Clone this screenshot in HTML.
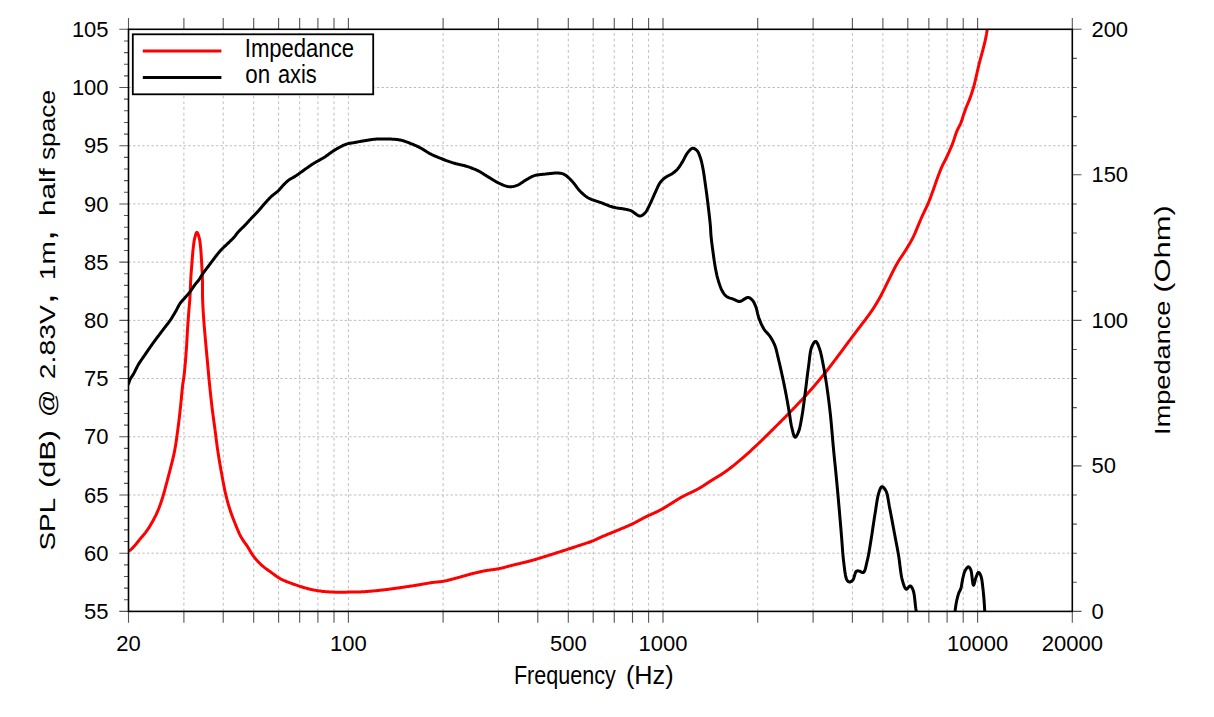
<!DOCTYPE html>
<html><head><meta charset="utf-8"><style>
html,body{margin:0;padding:0;background:#fff;}
svg{display:block;}
</style></head><body>
<svg width="1214" height="717" viewBox="0 0 1214 717" font-family='"Liberation Sans", sans-serif'><path d="M183.90,611.40V29.30M223.20,611.40V29.30M253.69,611.40V29.30M278.60,611.40V29.30M299.66,611.40V29.30M317.91,611.40V29.30M334.00,611.40V29.30M348.40,611.40V29.30M443.10,611.40V29.30M498.50,611.40V29.30M537.80,611.40V29.30M568.29,611.40V29.30M593.20,611.40V29.30M614.26,611.40V29.30M632.51,611.40V29.30M648.60,611.40V29.30M663.00,611.40V29.30M757.70,611.40V29.30M813.10,611.40V29.30M852.40,611.40V29.30M882.89,611.40V29.30M907.80,611.40V29.30M928.86,611.40V29.30M947.11,611.40V29.30M963.20,611.40V29.30M977.60,611.40V29.30" stroke="#bdbdbd" stroke-width="1" stroke-dasharray="2.8 2.9" fill="none"/>
<path d="M128.50,553.19H1072.30M128.50,494.98H1072.30M128.50,436.77H1072.30M128.50,378.56H1072.30M128.50,320.35H1072.30M128.50,262.14H1072.30M128.50,203.93H1072.30M128.50,145.72H1072.30M128.50,87.51H1072.30" stroke="#bdbdbd" stroke-width="1" stroke-dasharray="2.4 2.2" fill="none"/>
<path d="M128.50,611.40V622.70M128.50,29.30V18.00M183.90,611.40V622.70M183.90,29.30V18.00M223.20,611.40V622.70M223.20,29.30V18.00M253.69,611.40V622.70M253.69,29.30V18.00M278.60,611.40V622.70M278.60,29.30V18.00M299.66,611.40V622.70M299.66,29.30V18.00M317.91,611.40V622.70M317.91,29.30V18.00M334.00,611.40V622.70M334.00,29.30V18.00M348.40,611.40V622.70M348.40,29.30V18.00M443.10,611.40V622.70M443.10,29.30V18.00M498.50,611.40V622.70M498.50,29.30V18.00M537.80,611.40V622.70M537.80,29.30V18.00M568.29,611.40V622.70M568.29,29.30V18.00M593.20,611.40V622.70M593.20,29.30V18.00M614.26,611.40V622.70M614.26,29.30V18.00M632.51,611.40V622.70M632.51,29.30V18.00M648.60,611.40V622.70M648.60,29.30V18.00M663.00,611.40V622.70M663.00,29.30V18.00M757.70,611.40V622.70M757.70,29.30V18.00M813.10,611.40V622.70M813.10,29.30V18.00M852.40,611.40V622.70M852.40,29.30V18.00M882.89,611.40V622.70M882.89,29.30V18.00M907.80,611.40V622.70M907.80,29.30V18.00M928.86,611.40V622.70M928.86,29.30V18.00M947.11,611.40V622.70M947.11,29.30V18.00M963.20,611.40V622.70M963.20,29.30V18.00M977.60,611.40V622.70M977.60,29.30V18.00M1072.30,611.40V622.70M1072.30,29.30V18.00M128.50,611.40H119.30M128.50,599.76H124.00M128.50,588.12H124.00M128.50,576.47H124.00M128.50,564.83H124.00M128.50,553.19H119.30M128.50,541.55H124.00M128.50,529.91H124.00M128.50,518.26H124.00M128.50,506.62H124.00M128.50,494.98H119.30M128.50,483.34H124.00M128.50,471.70H124.00M128.50,460.05H124.00M128.50,448.41H124.00M128.50,436.77H119.30M128.50,425.13H124.00M128.50,413.49H124.00M128.50,401.84H124.00M128.50,390.20H124.00M128.50,378.56H119.30M128.50,366.92H124.00M128.50,355.28H124.00M128.50,343.63H124.00M128.50,331.99H124.00M128.50,320.35H119.30M128.50,308.71H124.00M128.50,297.07H124.00M128.50,285.42H124.00M128.50,273.78H124.00M128.50,262.14H119.30M128.50,250.50H124.00M128.50,238.86H124.00M128.50,227.21H124.00M128.50,215.57H124.00M128.50,203.93H119.30M128.50,192.29H124.00M128.50,180.65H124.00M128.50,169.00H124.00M128.50,157.36H124.00M128.50,145.72H119.30M128.50,134.08H124.00M128.50,122.44H124.00M128.50,110.79H124.00M128.50,99.15H124.00M128.50,87.51H119.30M128.50,75.87H124.00M128.50,64.23H124.00M128.50,52.58H124.00M128.50,40.94H124.00M128.50,29.30H119.30M1072.30,611.40H1081.50M1072.30,582.29H1076.80M1072.30,553.19H1076.80M1072.30,524.09H1076.80M1072.30,494.98H1076.80M1072.30,465.88H1081.50M1072.30,436.77H1076.80M1072.30,407.66H1076.80M1072.30,378.56H1076.80M1072.30,349.45H1076.80M1072.30,320.35H1081.50M1072.30,291.24H1076.80M1072.30,262.14H1076.80M1072.30,233.03H1076.80M1072.30,203.93H1076.80M1072.30,174.82H1081.50M1072.30,145.72H1076.80M1072.30,116.61H1076.80M1072.30,87.51H1076.80M1072.30,58.40H1076.80M1072.30,29.30H1081.50" stroke="#555" stroke-width="1.1" fill="none"/>
<defs><clipPath id="cp"><rect x="128.50" y="29.30" width="943.80" height="582.10"/></clipPath></defs>
<g clip-path="url(#cp)" fill="none" stroke-linejoin="round" stroke-linecap="round">
<path d="M126.50,552.50 L127.69,551.71 L128.80,551.00 L130.00,550.30 L130.42,549.96 L130.90,549.52 L131.44,549.02 L132.02,548.45 L132.62,547.84 L133.23,547.21 L133.84,546.56 L134.44,545.92 L135.00,545.30 L135.52,544.71 L136.03,544.11 L136.53,543.50 L137.03,542.88 L137.53,542.24 L138.03,541.60 L138.54,540.96 L139.05,540.31 L139.57,539.66 L140.10,539.00 L140.60,538.40 L141.10,537.80 L141.62,537.21 L142.14,536.60 L142.66,536.00 L143.19,535.39 L143.72,534.77 L144.25,534.14 L144.77,533.50 L145.29,532.85 L145.80,532.18 L146.30,531.50 L146.71,530.92 L147.12,530.33 L147.53,529.73 L147.94,529.11 L148.35,528.49 L148.76,527.86 L149.16,527.22 L149.56,526.58 L149.96,525.94 L150.35,525.29 L150.74,524.64 L151.12,523.99 L151.50,523.33 L151.87,522.69 L152.24,522.04 L152.60,521.40 L152.99,520.70 L153.38,520.00 L153.75,519.31 L154.13,518.61 L154.49,517.92 L154.85,517.23 L155.21,516.53 L155.56,515.83 L155.90,515.12 L156.25,514.40 L156.59,513.67 L156.93,512.93 L157.26,512.17 L157.60,511.40 L157.88,510.73 L158.16,510.05 L158.45,509.36 L158.72,508.66 L159.00,507.95 L159.28,507.23 L159.55,506.51 L159.82,505.77 L160.09,505.04 L160.35,504.30 L160.62,503.55 L160.88,502.80 L161.13,502.06 L161.39,501.31 L161.64,500.56 L161.88,499.82 L162.13,499.07 L162.37,498.33 L162.60,497.60 L162.83,496.88 L163.05,496.15 L163.27,495.43 L163.48,494.70 L163.69,493.97 L163.89,493.24 L164.09,492.51 L164.29,491.78 L164.49,491.04 L164.68,490.31 L164.88,489.58 L165.07,488.85 L165.26,488.13 L165.45,487.40 L165.64,486.68 L165.83,485.95 L166.02,485.23 L166.21,484.51 L166.40,483.80 L166.61,483.04 L166.81,482.29 L167.01,481.55 L167.21,480.82 L167.41,480.09 L167.60,479.37 L167.80,478.64 L167.99,477.92 L168.19,477.19 L168.38,476.46 L168.58,475.72 L168.78,474.96 L168.98,474.20 L169.18,473.43 L169.38,472.64 L169.59,471.83 L169.80,471.00 L169.96,470.36 L170.13,469.71 L170.30,469.05 L170.47,468.38 L170.64,467.70 L170.82,467.01 L170.99,466.32 L171.17,465.62 L171.35,464.92 L171.53,464.20 L171.72,463.48 L171.90,462.76 L172.08,462.03 L172.26,461.30 L172.44,460.57 L172.62,459.83 L172.80,459.09 L172.98,458.35 L173.15,457.60 L173.33,456.85 L173.50,456.11 L173.67,455.36 L173.83,454.61 L173.99,453.87 L174.15,453.12 L174.30,452.38 L174.45,451.64 L174.60,450.90 L174.74,450.18 L174.87,449.47 L175.00,448.75 L175.13,448.03 L175.26,447.30 L175.38,446.57 L175.50,445.85 L175.62,445.12 L175.74,444.39 L175.85,443.65 L175.97,442.92 L176.08,442.18 L176.19,441.45 L176.29,440.71 L176.40,439.97 L176.51,439.23 L176.61,438.50 L176.71,437.76 L176.81,437.02 L176.91,436.28 L177.01,435.54 L177.11,434.80 L177.21,434.06 L177.31,433.32 L177.41,432.58 L177.51,431.84 L177.61,431.11 L177.70,430.37 L177.80,429.63 L177.90,428.90 L178.00,428.17 L178.09,427.44 L178.19,426.71 L178.28,425.98 L178.38,425.25 L178.47,424.52 L178.56,423.79 L178.65,423.06 L178.74,422.33 L178.83,421.60 L178.92,420.87 L179.01,420.14 L179.10,419.41 L179.18,418.68 L179.27,417.95 L179.35,417.22 L179.44,416.49 L179.52,415.76 L179.61,415.04 L179.69,414.31 L179.77,413.58 L179.85,412.85 L179.94,412.11 L180.02,411.38 L180.10,410.65 L180.18,409.92 L180.26,409.19 L180.34,408.46 L180.42,407.73 L180.50,407.00 L180.58,406.26 L180.66,405.52 L180.74,404.76 L180.81,404.00 L180.89,403.23 L180.97,402.46 L181.04,401.69 L181.12,400.91 L181.19,400.12 L181.27,399.34 L181.34,398.56 L181.41,397.78 L181.49,397.00 L181.56,396.22 L181.63,395.45 L181.70,394.68 L181.78,393.92 L181.85,393.16 L181.92,392.41 L181.99,391.68 L182.06,390.95 L182.13,390.23 L182.20,389.52 L182.27,388.83 L182.34,388.15 L182.42,387.49 L182.49,386.84 L182.56,386.21 L182.63,385.59 L182.70,385.00 L182.81,384.14 L182.92,383.34 L183.03,382.59 L183.14,381.87 L183.24,381.19 L183.35,380.52 L183.46,379.86 L183.57,379.18 L183.67,378.49 L183.78,377.77 L183.89,377.00 L183.99,376.19 L184.10,375.30 L184.17,374.72 L184.23,374.13 L184.30,373.51 L184.37,372.87 L184.43,372.21 L184.50,371.54 L184.57,370.85 L184.64,370.15 L184.71,369.43 L184.78,368.70 L184.85,367.95 L184.92,367.20 L184.99,366.44 L185.06,365.67 L185.12,364.89 L185.19,364.11 L185.26,363.32 L185.33,362.52 L185.39,361.73 L185.46,360.93 L185.53,360.13 L185.59,359.33 L185.66,358.54 L185.72,357.74 L185.78,356.95 L185.85,356.17 L185.91,355.39 L185.97,354.62 L186.03,353.86 L186.08,353.10 L186.14,352.36 L186.19,351.63 L186.25,350.91 L186.30,350.20 L186.36,349.41 L186.41,348.63 L186.46,347.85 L186.52,347.07 L186.57,346.30 L186.61,345.53 L186.66,344.77 L186.71,344.00 L186.75,343.24 L186.79,342.48 L186.84,341.73 L186.88,340.98 L186.92,340.23 L186.96,339.48 L187.00,338.74 L187.04,338.00 L187.08,337.26 L187.12,336.52 L187.16,335.79 L187.20,335.06 L187.24,334.33 L187.28,333.60 L187.32,332.88 L187.37,332.16 L187.41,331.44 L187.45,330.72 L187.50,330.00 L187.55,329.23 L187.60,328.46 L187.65,327.70 L187.70,326.94 L187.75,326.19 L187.80,325.43 L187.86,324.68 L187.91,323.94 L187.96,323.19 L188.01,322.45 L188.06,321.71 L188.12,320.97 L188.17,320.24 L188.22,319.51 L188.27,318.78 L188.33,318.05 L188.38,317.32 L188.43,316.60 L188.49,315.87 L188.54,315.15 L188.59,314.43 L188.65,313.72 L188.70,313.00 L188.76,312.23 L188.82,311.47 L188.88,310.72 L188.94,309.98 L189.00,309.24 L189.07,308.51 L189.13,307.78 L189.19,307.06 L189.25,306.33 L189.32,305.60 L189.38,304.87 L189.44,304.14 L189.50,303.40 L189.56,302.66 L189.62,301.91 L189.68,301.15 L189.74,300.38 L189.79,299.60 L189.85,298.81 L189.90,298.00 L189.94,297.33 L189.98,296.64 L190.02,295.95 L190.06,295.24 L190.10,294.53 L190.13,293.80 L190.17,293.07 L190.20,292.34 L190.23,291.59 L190.27,290.84 L190.30,290.09 L190.33,289.33 L190.36,288.58 L190.39,287.82 L190.42,287.06 L190.45,286.30 L190.48,285.54 L190.52,284.79 L190.55,284.03 L190.58,283.29 L190.61,282.54 L190.64,281.81 L190.68,281.08 L190.71,280.36 L190.75,279.64 L190.78,278.94 L190.82,278.25 L190.86,277.57 L190.90,276.90 L190.95,276.10 L191.00,275.32 L191.05,274.55 L191.10,273.79 L191.15,273.04 L191.21,272.29 L191.26,271.56 L191.31,270.83 L191.37,270.10 L191.42,269.38 L191.48,268.67 L191.53,267.95 L191.59,267.24 L191.65,266.53 L191.71,265.81 L191.76,265.10 L191.82,264.38 L191.88,263.66 L191.94,262.93 L192.00,262.20 L192.06,261.46 L192.12,260.72 L192.18,259.97 L192.24,259.21 L192.30,258.45 L192.36,257.69 L192.42,256.93 L192.48,256.17 L192.54,255.41 L192.60,254.66 L192.66,253.90 L192.73,253.16 L192.79,252.42 L192.86,251.68 L192.93,250.96 L193.00,250.24 L193.07,249.54 L193.15,248.84 L193.22,248.17 L193.30,247.50 L193.40,246.68 L193.50,245.86 L193.59,245.06 L193.69,244.26 L193.78,243.48 L193.89,242.71 L193.99,241.96 L194.10,241.22 L194.22,240.49 L194.35,239.79 L194.49,239.11 L194.64,238.44 L194.80,237.80 L195.06,236.84 L195.33,235.81 L195.63,234.80 L195.94,233.87 L196.26,233.11 L196.58,232.59 L196.90,232.40 L197.23,232.58 L197.57,233.10 L197.93,233.86 L198.28,234.79 L198.61,235.81 L198.93,236.84 L199.20,237.80 L199.37,238.44 L199.52,239.10 L199.65,239.79 L199.78,240.49 L199.89,241.21 L199.99,241.95 L200.09,242.71 L200.18,243.48 L200.27,244.26 L200.35,245.06 L200.43,245.86 L200.51,246.68 L200.60,247.50 L200.67,248.16 L200.73,248.84 L200.79,249.53 L200.85,250.23 L200.91,250.95 L200.97,251.67 L201.02,252.39 L201.07,253.13 L201.12,253.87 L201.16,254.62 L201.21,255.38 L201.25,256.13 L201.30,256.89 L201.34,257.65 L201.38,258.41 L201.43,259.18 L201.47,259.94 L201.51,260.69 L201.56,261.45 L201.60,262.20 L201.64,262.94 L201.69,263.67 L201.73,264.41 L201.78,265.14 L201.82,265.87 L201.86,266.61 L201.91,267.34 L201.95,268.08 L201.99,268.82 L202.03,269.56 L202.07,270.30 L202.11,271.05 L202.15,271.80 L202.19,272.55 L202.22,273.31 L202.25,274.07 L202.29,274.85 L202.32,275.62 L202.35,276.41 L202.37,277.20 L202.40,278.00 L202.42,278.70 L202.44,279.40 L202.45,280.10 L202.46,280.82 L202.47,281.54 L202.48,282.26 L202.48,282.99 L202.48,283.73 L202.49,284.46 L202.49,285.21 L202.49,285.95 L202.49,286.70 L202.49,287.45 L202.49,288.20 L202.49,288.96 L202.49,289.72 L202.49,290.47 L202.49,291.23 L202.49,291.99 L202.49,292.75 L202.50,293.51 L202.51,294.27 L202.52,295.03 L202.53,295.79 L202.54,296.54 L202.56,297.30 L202.58,298.05 L202.60,298.80 L202.62,299.53 L202.65,300.27 L202.68,301.00 L202.71,301.73 L202.74,302.47 L202.77,303.20 L202.81,303.93 L202.84,304.67 L202.88,305.40 L202.91,306.14 L202.95,306.87 L202.99,307.61 L203.03,308.34 L203.08,309.08 L203.12,309.82 L203.16,310.55 L203.21,311.29 L203.25,312.03 L203.30,312.77 L203.35,313.51 L203.40,314.25 L203.44,314.99 L203.49,315.73 L203.54,316.47 L203.59,317.22 L203.64,317.96 L203.70,318.71 L203.75,319.45 L203.80,320.20 L203.85,320.92 L203.90,321.64 L203.96,322.35 L204.01,323.07 L204.06,323.79 L204.12,324.51 L204.18,325.22 L204.23,325.94 L204.29,326.66 L204.35,327.37 L204.41,328.09 L204.47,328.81 L204.53,329.53 L204.59,330.25 L204.65,330.97 L204.72,331.69 L204.78,332.42 L204.84,333.14 L204.91,333.87 L204.97,334.60 L205.04,335.33 L205.10,336.07 L205.17,336.81 L205.23,337.54 L205.30,338.29 L205.37,339.03 L205.43,339.78 L205.50,340.53 L205.57,341.28 L205.63,342.04 L205.70,342.80 L205.76,343.49 L205.82,344.18 L205.88,344.89 L205.95,345.60 L206.01,346.31 L206.08,347.04 L206.14,347.77 L206.21,348.50 L206.28,349.24 L206.34,349.98 L206.41,350.73 L206.48,351.48 L206.55,352.23 L206.62,352.98 L206.69,353.73 L206.76,354.49 L206.83,355.24 L206.90,355.99 L206.97,356.75 L207.04,357.49 L207.11,358.24 L207.17,358.99 L207.24,359.73 L207.31,360.46 L207.38,361.19 L207.45,361.92 L207.51,362.64 L207.58,363.35 L207.65,364.06 L207.71,364.76 L207.78,365.45 L207.84,366.13 L207.90,366.80 L207.96,367.46 L208.03,368.11 L208.08,368.75 L208.14,369.38 L208.20,370.00 L208.28,370.85 L208.35,371.67 L208.43,372.46 L208.50,373.24 L208.57,373.99 L208.63,374.74 L208.70,375.46 L208.76,376.18 L208.83,376.89 L208.89,377.60 L208.96,378.30 L209.02,379.01 L209.09,379.72 L209.15,380.43 L209.22,381.15 L209.29,381.89 L209.37,382.64 L209.44,383.40 L209.52,384.19 L209.60,385.00 L209.67,385.67 L209.74,386.35 L209.81,387.03 L209.88,387.72 L209.95,388.43 L210.02,389.13 L210.10,389.85 L210.17,390.57 L210.25,391.29 L210.32,392.03 L210.40,392.76 L210.48,393.50 L210.56,394.25 L210.64,394.99 L210.72,395.74 L210.80,396.50 L210.88,397.25 L210.97,398.00 L211.05,398.76 L211.13,399.52 L211.22,400.27 L211.30,401.03 L211.39,401.78 L211.48,402.54 L211.56,403.29 L211.65,404.04 L211.74,404.78 L211.82,405.53 L211.91,406.27 L212.00,407.00 L212.09,407.73 L212.18,408.46 L212.27,409.19 L212.36,409.92 L212.45,410.65 L212.55,411.38 L212.64,412.11 L212.74,412.84 L212.83,413.57 L212.93,414.30 L213.03,415.03 L213.12,415.76 L213.22,416.49 L213.32,417.22 L213.42,417.95 L213.52,418.68 L213.62,419.41 L213.72,420.14 L213.82,420.87 L213.92,421.60 L214.01,422.33 L214.11,423.06 L214.21,423.79 L214.31,424.52 L214.41,425.25 L214.51,425.98 L214.61,426.71 L214.71,427.44 L214.80,428.17 L214.90,428.90 L215.00,429.63 L215.09,430.37 L215.19,431.10 L215.28,431.83 L215.37,432.56 L215.47,433.30 L215.56,434.03 L215.65,434.76 L215.75,435.50 L215.84,436.23 L215.93,436.97 L216.02,437.70 L216.12,438.43 L216.21,439.17 L216.30,439.90 L216.39,440.63 L216.49,441.37 L216.58,442.10 L216.68,442.84 L216.78,443.57 L216.87,444.30 L216.97,445.04 L217.07,445.77 L217.17,446.50 L217.27,447.24 L217.37,447.97 L217.48,448.70 L217.58,449.43 L217.69,450.17 L217.80,450.90 L217.91,451.63 L218.02,452.37 L218.13,453.10 L218.25,453.84 L218.36,454.57 L218.48,455.30 L218.60,456.04 L218.71,456.77 L218.83,457.50 L218.95,458.24 L219.07,458.97 L219.19,459.70 L219.31,460.44 L219.44,461.17 L219.56,461.90 L219.68,462.63 L219.81,463.37 L219.93,464.10 L220.06,464.83 L220.19,465.57 L220.32,466.30 L220.44,467.03 L220.57,467.77 L220.70,468.50 L220.84,469.23 L220.97,469.97 L221.10,470.70 L221.23,471.43 L221.37,472.17 L221.50,472.90 L221.63,473.62 L221.76,474.34 L221.90,475.07 L222.03,475.80 L222.16,476.53 L222.30,477.26 L222.43,478.00 L222.57,478.74 L222.71,479.48 L222.84,480.22 L222.98,480.96 L223.12,481.70 L223.26,482.44 L223.40,483.17 L223.54,483.91 L223.68,484.65 L223.83,485.38 L223.97,486.11 L224.11,486.83 L224.26,487.55 L224.40,488.27 L224.55,488.98 L224.70,489.69 L224.84,490.39 L224.99,491.09 L225.14,491.77 L225.29,492.46 L225.44,493.13 L225.59,493.79 L225.75,494.45 L225.90,495.10 L226.09,495.88 L226.28,496.65 L226.46,497.41 L226.65,498.17 L226.84,498.91 L227.03,499.64 L227.22,500.37 L227.42,501.09 L227.61,501.80 L227.81,502.51 L228.00,503.21 L228.20,503.91 L228.40,504.60 L228.60,505.29 L228.81,505.98 L229.02,506.67 L229.23,507.35 L229.44,508.04 L229.66,508.72 L229.88,509.41 L230.10,510.10 L230.34,510.83 L230.58,511.55 L230.83,512.27 L231.08,512.99 L231.33,513.70 L231.58,514.41 L231.84,515.11 L232.10,515.82 L232.36,516.52 L232.62,517.22 L232.89,517.92 L233.16,518.62 L233.43,519.31 L233.70,520.01 L233.98,520.71 L234.25,521.40 L234.53,522.10 L234.82,522.80 L235.10,523.50 L235.39,524.21 L235.68,524.93 L235.97,525.65 L236.26,526.37 L236.55,527.10 L236.85,527.83 L237.14,528.56 L237.44,529.28 L237.75,530.00 L238.05,530.73 L238.36,531.44 L238.68,532.15 L238.99,532.86 L239.31,533.56 L239.64,534.24 L239.97,534.93 L240.31,535.60 L240.65,536.25 L241.00,536.90 L241.38,537.58 L241.78,538.25 L242.19,538.91 L242.60,539.55 L243.02,540.18 L243.45,540.81 L243.88,541.43 L244.31,542.04 L244.74,542.65 L245.18,543.26 L245.61,543.86 L246.04,544.47 L246.46,545.07 L246.88,545.68 L247.30,546.29 L247.70,546.90 L248.13,547.57 L248.54,548.25 L248.94,548.92 L249.34,549.59 L249.73,550.27 L250.12,550.94 L250.51,551.61 L250.90,552.27 L251.30,552.94 L251.71,553.60 L252.13,554.25 L252.57,554.91 L253.03,555.56 L253.50,556.20 L253.96,556.80 L254.43,557.40 L254.91,558.00 L255.40,558.59 L255.90,559.19 L256.41,559.78 L256.93,560.37 L257.46,560.95 L257.99,561.53 L258.53,562.11 L259.08,562.68 L259.64,563.24 L260.19,563.79 L260.76,564.34 L261.33,564.87 L261.90,565.40 L262.48,565.92 L263.08,566.43 L263.69,566.93 L264.31,567.42 L264.93,567.91 L265.57,568.39 L266.20,568.86 L266.85,569.33 L267.49,569.79 L268.13,570.25 L268.78,570.70 L269.41,571.15 L270.05,571.59 L270.67,572.03 L271.29,572.47 L271.90,572.90 L272.56,573.38 L273.21,573.86 L273.86,574.34 L274.49,574.81 L275.12,575.27 L275.75,575.73 L276.38,576.19 L277.02,576.63 L277.65,577.07 L278.30,577.49 L278.95,577.91 L279.62,578.31 L280.30,578.70 L280.96,579.06 L281.63,579.40 L282.31,579.73 L283.00,580.05 L283.70,580.37 L284.40,580.67 L285.11,580.97 L285.81,581.26 L286.52,581.54 L287.23,581.82 L287.93,582.10 L288.63,582.37 L289.32,582.63 L290.00,582.90 L290.73,583.18 L291.44,583.45 L292.14,583.71 L292.84,583.97 L293.54,584.21 L294.23,584.46 L294.93,584.70 L295.64,584.94 L296.36,585.17 L297.09,585.41 L297.83,585.66 L298.60,585.90 L299.28,586.12 L299.98,586.34 L300.69,586.56 L301.41,586.79 L302.14,587.02 L302.88,587.24 L303.62,587.47 L304.37,587.69 L305.13,587.91 L305.88,588.13 L306.64,588.34 L307.40,588.55 L308.15,588.75 L308.91,588.94 L309.66,589.13 L310.40,589.30 L311.18,589.47 L311.95,589.64 L312.73,589.80 L313.51,589.96 L314.29,590.11 L315.07,590.25 L315.85,590.39 L316.63,590.52 L317.41,590.65 L318.19,590.77 L318.97,590.89 L319.75,591.00 L320.54,591.10 L321.32,591.20 L322.10,591.30 L322.87,591.39 L323.64,591.47 L324.41,591.55 L325.18,591.62 L325.94,591.68 L326.70,591.74 L327.47,591.80 L328.24,591.85 L329.01,591.89 L329.79,591.93 L330.57,591.97 L331.36,592.01 L332.16,592.04 L332.98,592.07 L333.80,592.10 L334.51,592.12 L335.24,592.14 L335.97,592.16 L336.71,592.17 L337.46,592.18 L338.22,592.18 L338.98,592.18 L339.74,592.19 L340.51,592.18 L341.29,592.18 L342.06,592.18 L342.83,592.17 L343.60,592.16 L344.38,592.15 L345.14,592.15 L345.91,592.14 L346.67,592.13 L347.42,592.12 L348.16,592.11 L348.90,592.10 L349.66,592.09 L350.41,592.08 L351.15,592.08 L351.88,592.07 L352.61,592.07 L353.34,592.06 L354.06,592.05 L354.78,592.04 L355.50,592.03 L356.22,592.02 L356.95,592.00 L357.68,591.99 L358.42,591.96 L359.17,591.94 L359.93,591.91 L360.71,591.88 L361.50,591.84 L362.30,591.80 L362.98,591.76 L363.68,591.72 L364.39,591.67 L365.10,591.63 L365.83,591.58 L366.56,591.52 L367.31,591.47 L368.05,591.41 L368.81,591.35 L369.57,591.28 L370.33,591.22 L371.10,591.15 L371.87,591.08 L372.64,591.01 L373.41,590.94 L374.18,590.87 L374.95,590.80 L375.72,590.72 L376.49,590.65 L377.25,590.57 L378.01,590.49 L378.76,590.41 L379.51,590.34 L380.25,590.26 L380.98,590.18 L381.70,590.10 L382.46,590.02 L383.21,589.93 L383.95,589.84 L384.70,589.76 L385.44,589.67 L386.17,589.58 L386.91,589.48 L387.64,589.39 L388.37,589.30 L389.10,589.20 L389.82,589.10 L390.54,589.01 L391.27,588.91 L391.99,588.81 L392.71,588.71 L393.43,588.61 L394.15,588.51 L394.88,588.41 L395.60,588.31 L396.32,588.21 L397.05,588.10 L397.77,588.00 L398.50,587.90 L399.23,587.80 L399.95,587.69 L400.68,587.59 L401.41,587.49 L402.14,587.38 L402.86,587.28 L403.59,587.17 L404.31,587.06 L405.04,586.96 L405.77,586.85 L406.49,586.74 L407.22,586.63 L407.94,586.52 L408.67,586.41 L409.40,586.30 L410.12,586.19 L410.85,586.08 L411.57,585.97 L412.30,585.86 L413.02,585.74 L413.75,585.63 L414.47,585.51 L415.20,585.40 L415.93,585.28 L416.66,585.16 L417.40,585.04 L418.14,584.92 L418.88,584.79 L419.63,584.66 L420.38,584.53 L421.12,584.40 L421.87,584.27 L422.61,584.14 L423.36,584.01 L424.10,583.88 L424.84,583.75 L425.57,583.62 L426.30,583.49 L427.03,583.37 L427.75,583.25 L428.46,583.13 L429.16,583.02 L429.86,582.91 L430.55,582.80 L431.23,582.70 L431.90,582.60 L432.74,582.48 L433.57,582.38 L434.38,582.29 L435.18,582.21 L435.96,582.13 L436.74,582.06 L437.51,581.98 L438.27,581.91 L439.04,581.83 L439.80,581.75 L440.56,581.67 L441.34,581.57 L442.11,581.46 L442.90,581.34 L443.70,581.20 L444.42,581.06 L445.14,580.92 L445.87,580.76 L446.60,580.60 L447.33,580.44 L448.06,580.26 L448.79,580.08 L449.52,579.89 L450.26,579.70 L451.00,579.51 L451.74,579.31 L452.48,579.11 L453.23,578.91 L453.98,578.71 L454.73,578.51 L455.48,578.30 L456.24,578.10 L457.00,577.90 L457.70,577.71 L458.41,577.52 L459.12,577.33 L459.83,577.13 L460.55,576.93 L461.27,576.72 L462.00,576.51 L462.72,576.30 L463.45,576.09 L464.18,575.88 L464.91,575.67 L465.64,575.46 L466.37,575.26 L467.09,575.05 L467.82,574.85 L468.54,574.64 L469.26,574.45 L469.98,574.25 L470.69,574.06 L471.40,573.88 L472.10,573.70 L472.86,573.51 L473.62,573.32 L474.37,573.14 L475.12,572.95 L475.87,572.77 L476.62,572.60 L477.36,572.42 L478.10,572.25 L478.84,572.08 L479.58,571.92 L480.32,571.75 L481.05,571.59 L481.79,571.44 L482.53,571.28 L483.27,571.13 L484.01,570.98 L484.75,570.84 L485.50,570.70 L486.24,570.57 L486.99,570.44 L487.73,570.33 L488.47,570.22 L489.22,570.11 L489.96,570.01 L490.71,569.91 L491.46,569.82 L492.20,569.72 L492.95,569.63 L493.69,569.53 L494.44,569.43 L495.18,569.33 L495.93,569.22 L496.67,569.10 L497.42,568.98 L498.16,568.84 L498.90,568.70 L499.64,568.55 L500.38,568.39 L501.11,568.22 L501.84,568.05 L502.56,567.87 L503.28,567.69 L504.01,567.50 L504.73,567.31 L505.45,567.12 L506.18,566.92 L506.91,566.73 L507.65,566.52 L508.40,566.32 L509.16,566.12 L509.92,565.91 L510.70,565.71 L511.49,565.50 L512.30,565.30 L512.96,565.14 L513.63,564.97 L514.31,564.80 L515.00,564.64 L515.69,564.47 L516.40,564.30 L517.11,564.13 L517.83,563.96 L518.56,563.78 L519.29,563.61 L520.02,563.43 L520.76,563.26 L521.50,563.08 L522.24,562.90 L522.99,562.72 L523.73,562.54 L524.47,562.36 L525.21,562.18 L525.95,561.99 L526.69,561.81 L527.42,561.63 L528.15,561.44 L528.87,561.25 L529.59,561.07 L530.30,560.88 L531.01,560.69 L531.70,560.50 L532.43,560.30 L533.15,560.10 L533.86,559.89 L534.58,559.69 L535.29,559.48 L536.00,559.27 L536.70,559.06 L537.40,558.85 L538.10,558.64 L538.80,558.43 L539.49,558.21 L540.19,558.00 L540.88,557.78 L541.57,557.57 L542.26,557.35 L542.96,557.14 L543.65,556.92 L544.34,556.70 L545.03,556.49 L545.72,556.27 L546.41,556.05 L547.11,555.83 L547.80,555.62 L548.50,555.40 L549.20,555.18 L549.89,554.97 L550.59,554.75 L551.29,554.53 L551.99,554.31 L552.68,554.09 L553.38,553.87 L554.07,553.66 L554.77,553.44 L555.47,553.22 L556.16,553.00 L556.86,552.77 L557.55,552.55 L558.25,552.33 L558.94,552.11 L559.64,551.89 L560.33,551.67 L561.03,551.44 L561.72,551.22 L562.42,551.00 L563.11,550.77 L563.81,550.55 L564.50,550.32 L565.20,550.10 L565.90,549.87 L566.61,549.64 L567.32,549.41 L568.03,549.18 L568.75,548.94 L569.48,548.71 L570.20,548.47 L570.92,548.23 L571.65,548.00 L572.37,547.76 L573.09,547.52 L573.81,547.28 L574.53,547.05 L575.24,546.81 L575.95,546.58 L576.64,546.35 L577.34,546.12 L578.02,545.89 L578.69,545.67 L579.36,545.45 L580.01,545.23 L580.66,545.01 L581.28,544.80 L581.90,544.60 L582.70,544.34 L583.48,544.08 L584.24,543.84 L584.98,543.60 L585.70,543.37 L586.42,543.14 L587.12,542.92 L587.82,542.69 L588.51,542.46 L589.21,542.22 L589.90,541.98 L590.59,541.73 L591.29,541.47 L592.00,541.20 L592.72,540.91 L593.43,540.62 L594.13,540.31 L594.83,540.00 L595.53,539.68 L596.22,539.36 L596.92,539.03 L597.62,538.70 L598.32,538.37 L599.04,538.04 L599.76,537.70 L600.49,537.37 L601.24,537.03 L602.00,536.70 L602.66,536.42 L603.32,536.14 L603.99,535.86 L604.66,535.58 L605.34,535.30 L606.03,535.02 L606.72,534.74 L607.42,534.45 L608.13,534.17 L608.84,533.88 L609.55,533.59 L610.27,533.30 L610.99,533.01 L611.72,532.72 L612.45,532.42 L613.18,532.12 L613.92,531.82 L614.66,531.51 L615.40,531.20 L616.04,530.93 L616.69,530.66 L617.34,530.39 L618.01,530.11 L618.68,529.84 L619.35,529.56 L620.03,529.28 L620.72,528.99 L621.40,528.71 L622.09,528.42 L622.79,528.14 L623.48,527.85 L624.17,527.56 L624.86,527.26 L625.55,526.97 L626.24,526.68 L626.93,526.38 L627.61,526.09 L628.28,525.79 L628.95,525.49 L629.62,525.19 L630.28,524.90 L630.93,524.60 L631.57,524.30 L632.20,524.00 L632.91,523.66 L633.60,523.32 L634.29,522.97 L634.96,522.62 L635.63,522.28 L636.29,521.92 L636.95,521.57 L637.60,521.22 L638.25,520.87 L638.90,520.51 L639.55,520.16 L640.20,519.80 L640.84,519.45 L641.49,519.10 L642.15,518.74 L642.81,518.39 L643.47,518.04 L644.14,517.69 L644.81,517.34 L645.50,517.00 L646.16,516.67 L646.82,516.36 L647.49,516.04 L648.15,515.73 L648.82,515.43 L649.48,515.13 L650.15,514.83 L650.82,514.53 L651.50,514.23 L652.17,513.93 L652.85,513.63 L653.54,513.32 L654.22,513.01 L654.91,512.70 L655.61,512.38 L656.31,512.05 L657.01,511.72 L657.72,511.38 L658.43,511.02 L659.15,510.66 L659.87,510.29 L660.60,509.90 L661.18,509.59 L661.77,509.26 L662.36,508.93 L662.96,508.58 L663.56,508.23 L664.17,507.87 L664.78,507.50 L665.40,507.13 L666.02,506.75 L666.65,506.37 L667.27,505.98 L667.90,505.58 L668.54,505.19 L669.17,504.79 L669.81,504.38 L670.45,503.98 L671.09,503.57 L671.72,503.17 L672.36,502.76 L673.00,502.36 L673.64,501.95 L674.28,501.55 L674.91,501.15 L675.55,500.76 L676.18,500.36 L676.81,499.98 L677.43,499.59 L678.06,499.21 L678.67,498.84 L679.29,498.48 L679.90,498.12 L680.51,497.77 L681.11,497.43 L681.70,497.10 L682.40,496.72 L683.10,496.34 L683.80,495.98 L684.50,495.62 L685.19,495.27 L685.89,494.92 L686.58,494.59 L687.27,494.25 L687.95,493.92 L688.64,493.60 L689.32,493.27 L690.00,492.95 L690.68,492.64 L691.35,492.32 L692.02,492.00 L692.68,491.68 L693.35,491.36 L694.01,491.04 L694.66,490.72 L695.31,490.40 L695.96,490.07 L696.60,489.73 L697.24,489.39 L697.87,489.05 L698.50,488.70 L699.18,488.31 L699.86,487.92 L700.52,487.52 L701.19,487.12 L701.84,486.71 L702.50,486.30 L703.14,485.89 L703.79,485.48 L704.43,485.07 L705.06,484.65 L705.69,484.24 L706.32,483.83 L706.95,483.41 L707.57,483.00 L708.19,482.59 L708.81,482.18 L709.43,481.78 L710.05,481.38 L710.67,480.98 L711.28,480.58 L711.90,480.19 L712.57,479.77 L713.24,479.36 L713.90,478.96 L714.56,478.56 L715.21,478.16 L715.87,477.77 L716.52,477.37 L717.17,476.98 L717.82,476.59 L718.47,476.20 L719.11,475.81 L719.75,475.41 L720.40,475.01 L721.04,474.61 L721.68,474.20 L722.32,473.78 L722.96,473.35 L723.60,472.92 L724.22,472.49 L724.85,472.05 L725.47,471.61 L726.09,471.17 L726.71,470.72 L727.33,470.27 L727.95,469.81 L728.57,469.36 L729.18,468.89 L729.80,468.43 L730.41,467.96 L731.03,467.49 L731.64,467.01 L732.25,466.54 L732.86,466.06 L733.47,465.58 L734.08,465.09 L734.69,464.61 L735.30,464.12 L735.89,463.64 L736.49,463.16 L737.08,462.67 L737.68,462.18 L738.27,461.69 L738.86,461.19 L739.46,460.69 L740.05,460.19 L740.64,459.68 L741.23,459.18 L741.82,458.67 L742.41,458.16 L742.99,457.66 L743.58,457.15 L744.16,456.64 L744.73,456.13 L745.30,455.63 L745.87,455.13 L746.44,454.63 L747.00,454.13 L747.58,453.61 L748.16,453.09 L748.74,452.57 L749.31,452.05 L749.88,451.53 L750.44,451.02 L751.00,450.50 L751.56,449.98 L752.12,449.47 L752.67,448.95 L753.23,448.43 L753.78,447.92 L754.33,447.40 L754.88,446.88 L755.44,446.36 L755.99,445.84 L756.54,445.31 L757.10,444.79 L757.66,444.26 L758.22,443.72 L758.79,443.18 L759.36,442.64 L759.92,442.09 L760.49,441.55 L761.06,441.00 L761.62,440.45 L762.19,439.90 L762.75,439.36 L763.31,438.81 L763.86,438.27 L764.42,437.73 L764.96,437.20 L765.51,436.67 L766.04,436.14 L766.58,435.62 L767.10,435.11 L767.69,434.53 L768.27,433.96 L768.84,433.40 L769.40,432.85 L769.96,432.30 L770.51,431.75 L771.05,431.21 L771.60,430.67 L772.15,430.12 L772.71,429.57 L773.26,429.02 L773.83,428.45 L774.41,427.88 L775.00,427.29 L775.50,426.79 L776.00,426.29 L776.51,425.78 L777.03,425.27 L777.55,424.75 L778.07,424.23 L778.60,423.71 L779.13,423.18 L779.66,422.65 L780.20,422.11 L780.73,421.58 L781.27,421.04 L781.80,420.50 L782.34,419.97 L782.88,419.43 L783.41,418.89 L783.94,418.35 L784.47,417.82 L785.00,417.28 L785.53,416.74 L786.06,416.21 L786.60,415.66 L787.13,415.12 L787.66,414.58 L788.20,414.04 L788.73,413.50 L789.26,412.95 L789.79,412.41 L790.33,411.86 L790.86,411.32 L791.39,410.77 L791.92,410.23 L792.45,409.68 L792.98,409.13 L793.51,408.58 L794.04,408.03 L794.57,407.48 L795.10,406.93 L795.63,406.37 L796.16,405.82 L796.69,405.26 L797.22,404.70 L797.75,404.15 L798.27,403.59 L798.80,403.03 L799.33,402.47 L799.85,401.91 L800.38,401.35 L800.90,400.79 L801.43,400.23 L801.96,399.66 L802.48,399.10 L803.00,398.53 L803.53,397.96 L804.05,397.39 L804.58,396.82 L805.10,396.24 L805.61,395.68 L806.12,395.12 L806.62,394.56 L807.13,394.00 L807.64,393.44 L808.15,392.87 L808.65,392.31 L809.16,391.74 L809.67,391.17 L810.17,390.60 L810.68,390.03 L811.18,389.45 L811.69,388.88 L812.19,388.31 L812.69,387.73 L813.20,387.15 L813.70,386.57 L814.20,385.99 L814.70,385.41 L815.20,384.83 L815.68,384.26 L816.16,383.70 L816.64,383.13 L817.12,382.57 L817.60,382.00 L818.08,381.43 L818.56,380.86 L819.03,380.29 L819.51,379.71 L819.99,379.14 L820.46,378.57 L820.94,377.99 L821.41,377.41 L821.89,376.83 L822.36,376.25 L822.84,375.67 L823.31,375.08 L823.78,374.50 L824.25,373.91 L824.73,373.32 L825.20,372.73 L825.66,372.15 L826.12,371.58 L826.57,371.01 L827.02,370.44 L827.47,369.87 L827.91,369.30 L828.36,368.73 L828.80,368.15 L829.24,367.58 L829.69,367.00 L830.13,366.43 L830.58,365.84 L831.03,365.25 L831.49,364.66 L831.94,364.06 L832.40,363.46 L832.87,362.84 L833.34,362.22 L833.82,361.59 L834.31,360.95 L834.80,360.30 L835.30,359.64 L835.69,359.12 L836.09,358.59 L836.50,358.05 L836.91,357.50 L837.34,356.94 L837.76,356.37 L838.20,355.78 L838.64,355.20 L839.08,354.60 L839.53,354.00 L839.98,353.39 L840.43,352.78 L840.89,352.16 L841.35,351.55 L841.81,350.92 L842.27,350.30 L842.73,349.68 L843.19,349.06 L843.65,348.44 L844.11,347.82 L844.57,347.20 L845.02,346.58 L845.47,345.97 L845.92,345.37 L846.36,344.77 L846.80,344.18 L847.23,343.59 L847.66,343.02 L848.08,342.45 L848.49,341.89 L848.90,341.35 L849.30,340.81 L849.69,340.29 L850.07,339.78 L850.44,339.28 L850.80,338.80 L851.31,338.11 L851.81,337.45 L852.29,336.81 L852.76,336.19 L853.22,335.58 L853.66,334.99 L854.10,334.41 L854.53,333.84 L854.95,333.28 L855.38,332.72 L855.80,332.16 L856.22,331.61 L856.64,331.05 L857.07,330.48 L857.51,329.91 L857.95,329.33 L858.40,328.73 L858.85,328.14 L859.31,327.54 L859.77,326.94 L860.24,326.33 L860.71,325.73 L861.18,325.12 L861.65,324.51 L862.12,323.90 L862.59,323.29 L863.06,322.68 L863.53,322.08 L864.00,321.47 L864.46,320.86 L864.92,320.26 L865.38,319.66 L865.82,319.06 L866.27,318.46 L866.70,317.87 L867.17,317.23 L867.64,316.58 L868.11,315.95 L868.56,315.32 L869.02,314.69 L869.46,314.07 L869.91,313.44 L870.35,312.82 L870.79,312.19 L871.23,311.56 L871.66,310.93 L872.10,310.29 L872.53,309.64 L872.97,308.98 L873.40,308.32 L873.80,307.69 L874.21,307.06 L874.61,306.43 L875.00,305.80 L875.40,305.16 L875.79,304.52 L876.19,303.88 L876.58,303.23 L876.97,302.58 L877.36,301.92 L877.75,301.25 L878.14,300.58 L878.53,299.91 L878.92,299.22 L879.31,298.53 L879.71,297.82 L880.10,297.11 L880.43,296.51 L880.76,295.89 L881.10,295.26 L881.43,294.63 L881.76,293.98 L882.10,293.33 L882.43,292.68 L882.77,292.02 L883.10,291.35 L883.43,290.68 L883.77,290.01 L884.10,289.34 L884.43,288.66 L884.76,287.99 L885.10,287.31 L885.43,286.64 L885.76,285.97 L886.08,285.30 L886.41,284.64 L886.73,283.98 L887.06,283.32 L887.38,282.67 L887.70,282.03 L888.05,281.33 L888.40,280.63 L888.74,279.93 L889.09,279.22 L889.44,278.51 L889.79,277.80 L890.14,277.09 L890.48,276.38 L890.82,275.68 L891.17,274.98 L891.51,274.28 L891.84,273.60 L892.18,272.92 L892.51,272.25 L892.83,271.60 L893.16,270.96 L893.48,270.33 L893.79,269.71 L894.10,269.11 L894.40,268.53 L894.80,267.78 L895.18,267.06 L895.54,266.38 L895.89,265.72 L896.24,265.08 L896.59,264.44 L896.94,263.81 L897.31,263.17 L897.68,262.52 L898.08,261.85 L898.50,261.15 L898.87,260.55 L899.24,259.95 L899.63,259.34 L900.04,258.73 L900.45,258.11 L900.87,257.49 L901.29,256.86 L901.72,256.22 L902.16,255.58 L902.59,254.93 L903.03,254.28 L903.47,253.62 L903.91,252.96 L904.34,252.29 L904.77,251.61 L905.20,250.93 L905.58,250.32 L905.96,249.70 L906.35,249.07 L906.75,248.43 L907.15,247.78 L907.54,247.13 L907.94,246.47 L908.34,245.81 L908.74,245.15 L909.14,244.48 L909.54,243.81 L909.93,243.14 L910.31,242.48 L910.69,241.81 L911.07,241.15 L911.43,240.49 L911.79,239.84 L912.14,239.19 L912.47,238.55 L912.80,237.91 L913.17,237.18 L913.52,236.44 L913.87,235.71 L914.20,234.98 L914.52,234.26 L914.83,233.54 L915.14,232.82 L915.44,232.11 L915.73,231.39 L916.03,230.68 L916.32,229.97 L916.61,229.27 L916.90,228.56 L917.20,227.86 L917.50,227.15 L917.81,226.44 L918.10,225.74 L918.40,225.04 L918.69,224.35 L918.97,223.67 L919.26,222.99 L919.55,222.30 L919.83,221.61 L920.13,220.92 L920.42,220.22 L920.73,219.50 L921.04,218.78 L921.36,218.03 L921.70,217.27 L921.98,216.64 L922.28,215.99 L922.58,215.33 L922.90,214.66 L923.22,213.97 L923.54,213.28 L923.88,212.58 L924.21,211.87 L924.55,211.16 L924.89,210.44 L925.23,209.73 L925.57,209.01 L925.91,208.29 L926.25,207.58 L926.58,206.87 L926.90,206.17 L927.22,205.47 L927.53,204.78 L927.83,204.10 L928.12,203.44 L928.40,202.78 L928.72,202.01 L929.03,201.26 L929.33,200.52 L929.62,199.79 L929.90,199.07 L930.17,198.35 L930.44,197.64 L930.71,196.93 L930.97,196.21 L931.23,195.49 L931.50,194.77 L931.77,194.04 L932.04,193.29 L932.32,192.53 L932.60,191.75 L932.85,191.08 L933.10,190.38 L933.35,189.68 L933.60,188.96 L933.86,188.24 L934.12,187.50 L934.37,186.76 L934.63,186.02 L934.89,185.27 L935.15,184.52 L935.41,183.78 L935.67,183.03 L935.93,182.29 L936.18,181.56 L936.44,180.83 L936.70,180.11 L936.95,179.40 L937.20,178.70 L937.45,178.02 L937.70,177.35 L938.00,176.55 L938.29,175.77 L938.58,175.00 L938.86,174.24 L939.14,173.49 L939.43,172.75 L939.71,172.02 L939.99,171.29 L940.28,170.57 L940.57,169.85 L940.86,169.13 L941.17,168.40 L941.48,167.68 L941.80,166.94 L942.11,166.25 L942.43,165.57 L942.76,164.90 L943.09,164.22 L943.43,163.55 L943.77,162.89 L944.11,162.22 L944.46,161.55 L944.81,160.87 L945.16,160.19 L945.51,159.51 L945.86,158.81 L946.21,158.11 L946.56,157.39 L946.90,156.66 L947.21,156.00 L947.52,155.33 L947.83,154.65 L948.14,153.97 L948.46,153.27 L948.77,152.57 L949.09,151.86 L949.41,151.14 L949.73,150.43 L950.04,149.71 L950.35,148.99 L950.66,148.27 L950.97,147.55 L951.27,146.83 L951.57,146.11 L951.86,145.40 L952.15,144.69 L952.43,143.99 L952.70,143.29 L952.98,142.56 L953.25,141.82 L953.51,141.08 L953.76,140.34 L954.00,139.60 L954.24,138.86 L954.48,138.12 L954.72,137.38 L954.95,136.65 L955.18,135.92 L955.41,135.20 L955.65,134.49 L955.89,133.78 L956.13,133.09 L956.38,132.41 L956.64,131.74 L956.90,131.08 L957.24,130.30 L957.59,129.53 L957.95,128.79 L958.32,128.05 L958.69,127.33 L959.06,126.62 L959.43,125.92 L959.79,125.22 L960.15,124.52 L960.48,123.83 L960.80,123.12 L961.10,122.42 L961.40,121.63 L961.68,120.85 L961.94,120.06 L962.18,119.28 L962.42,118.51 L962.65,117.73 L962.87,116.96 L963.11,116.18 L963.35,115.41 L963.60,114.65 L963.86,113.89 L964.11,113.15 L964.37,112.41 L964.63,111.68 L964.90,110.95 L965.16,110.21 L965.44,109.47 L965.72,108.72 L966.00,107.95 L966.30,107.18 L966.57,106.49 L966.84,105.81 L967.13,105.12 L967.42,104.42 L967.72,103.72 L968.02,103.01 L968.32,102.29 L968.63,101.57 L968.93,100.84 L969.23,100.11 L969.53,99.36 L969.82,98.61 L970.10,97.85 L970.35,97.16 L970.60,96.45 L970.86,95.73 L971.11,95.00 L971.36,94.27 L971.61,93.52 L971.86,92.77 L972.10,92.02 L972.34,91.27 L972.58,90.52 L972.81,89.77 L973.04,89.02 L973.27,88.27 L973.48,87.53 L973.70,86.80 L973.90,86.08 L974.11,85.31 L974.31,84.54 L974.51,83.77 L974.70,83.01 L974.88,82.24 L975.06,81.48 L975.24,80.72 L975.41,79.97 L975.58,79.22 L975.74,78.48 L975.91,77.74 L976.07,77.02 L976.24,76.30 L976.40,75.59 L976.58,74.80 L976.76,74.02 L976.94,73.25 L977.11,72.49 L977.28,71.74 L977.45,71.00 L977.61,70.26 L977.78,69.52 L977.95,68.79 L978.12,68.06 L978.30,67.33 L978.48,66.57 L978.67,65.83 L978.85,65.10 L979.03,64.38 L979.21,63.65 L979.40,62.93 L979.59,62.18 L979.78,61.43 L979.99,60.64 L980.20,59.83 L980.37,59.18 L980.55,58.49 L980.74,57.79 L980.94,57.08 L981.14,56.34 L981.34,55.60 L981.55,54.85 L981.75,54.09 L981.96,53.34 L982.16,52.59 L982.37,51.84 L982.57,51.11 L982.76,50.38 L982.95,49.68 L983.13,48.99 L983.30,48.33 L983.51,47.50 L983.72,46.70 L983.92,45.92 L984.11,45.16 L984.30,44.41 L984.48,43.67 L984.66,42.92 L984.84,42.15 L985.02,41.36 L985.20,40.54 L985.36,39.79 L985.52,39.01 L985.68,38.21 L985.83,37.40 L985.99,36.57 L986.14,35.74 L986.30,34.91 L986.44,34.08 L986.59,33.27 L986.72,32.47 L986.86,31.69 L986.98,30.94 L987.10,30.23 L987.24,29.37 L987.36,28.54 L987.47,27.75 L987.58,26.97 L987.68,26.21 L987.79,25.45 L987.89,24.68 L988.00,23.90" stroke="#ff0000" stroke-width="3"/>
<path d="M126.50,386.50 L127.04,385.77 L127.60,385.04 L128.13,384.30 L128.60,383.50 L128.98,382.59 L129.27,381.64 L129.58,380.64 L130.00,379.60 L130.32,378.97 L130.69,378.33 L131.10,377.67 L131.53,377.00 L131.98,376.31 L132.44,375.60 L132.91,374.89 L133.36,374.15 L133.80,373.40 L134.14,372.77 L134.48,372.13 L134.82,371.47 L135.16,370.80 L135.49,370.12 L135.83,369.42 L136.17,368.72 L136.52,368.02 L136.87,367.31 L137.23,366.61 L137.61,365.90 L138.00,365.20 L138.40,364.50 L138.77,363.88 L139.16,363.25 L139.56,362.63 L139.97,362.00 L140.38,361.37 L140.81,360.74 L141.24,360.11 L141.67,359.48 L142.11,358.84 L142.55,358.21 L142.99,357.57 L143.44,356.94 L143.88,356.30 L144.33,355.67 L144.76,355.03 L145.20,354.40 L145.62,353.79 L146.03,353.18 L146.45,352.56 L146.88,351.95 L147.30,351.33 L147.72,350.71 L148.14,350.09 L148.57,349.47 L149.00,348.85 L149.42,348.24 L149.85,347.62 L150.27,347.01 L150.70,346.40 L151.13,345.80 L151.55,345.19 L151.98,344.59 L152.40,344.00 L152.86,343.36 L153.32,342.72 L153.78,342.09 L154.25,341.46 L154.71,340.83 L155.18,340.20 L155.64,339.58 L156.10,338.96 L156.56,338.35 L157.02,337.73 L157.48,337.12 L157.94,336.51 L158.40,335.90 L158.85,335.30 L159.30,334.70 L159.79,334.05 L160.28,333.40 L160.77,332.74 L161.26,332.09 L161.75,331.45 L162.23,330.80 L162.72,330.17 L163.19,329.53 L163.67,328.91 L164.14,328.29 L164.60,327.68 L165.05,327.09 L165.50,326.50 L166.04,325.80 L166.56,325.13 L167.08,324.49 L167.58,323.86 L168.08,323.23 L168.58,322.59 L169.08,321.93 L169.59,321.23 L170.10,320.50 L170.51,319.89 L170.93,319.26 L171.35,318.61 L171.77,317.94 L172.20,317.25 L172.63,316.55 L173.05,315.84 L173.48,315.13 L173.90,314.42 L174.32,313.72 L174.73,313.02 L175.13,312.33 L175.52,311.66 L175.90,311.00 L176.31,310.28 L176.70,309.55 L177.08,308.83 L177.44,308.12 L177.80,307.41 L178.16,306.71 L178.52,306.02 L178.89,305.35 L179.28,304.68 L179.68,304.03 L180.10,303.40 L180.61,302.70 L181.14,302.03 L181.69,301.37 L182.25,300.74 L182.82,300.11 L183.40,299.49 L183.97,298.87 L184.54,298.24 L185.10,297.60 L185.60,297.02 L186.11,296.44 L186.61,295.86 L187.12,295.28 L187.62,294.70 L188.13,294.12 L188.63,293.53 L189.12,292.93 L189.61,292.32 L190.10,291.70 L190.56,291.08 L191.02,290.44 L191.47,289.78 L191.93,289.11 L192.37,288.44 L192.82,287.76 L193.26,287.09 L193.70,286.44 L194.14,285.80 L194.57,285.18 L195.00,284.60 L195.56,283.89 L196.11,283.22 L196.66,282.59 L197.21,281.97 L197.74,281.34 L198.28,280.69 L198.80,280.00 L199.23,279.39 L199.64,278.76 L200.04,278.13 L200.43,277.48 L200.82,276.82 L201.23,276.14 L201.66,275.44 L202.11,274.73 L202.60,274.00 L202.99,273.43 L203.40,272.85 L203.83,272.25 L204.28,271.64 L204.73,271.02 L205.20,270.39 L205.68,269.74 L206.17,269.10 L206.66,268.44 L207.16,267.79 L207.65,267.13 L208.15,266.48 L208.65,265.82 L209.14,265.17 L209.62,264.53 L210.10,263.90 L210.58,263.27 L211.06,262.62 L211.55,261.96 L212.04,261.30 L212.54,260.63 L213.04,259.97 L213.54,259.30 L214.03,258.64 L214.52,257.99 L215.01,257.35 L215.48,256.73 L215.95,256.12 L216.41,255.53 L216.85,254.96 L217.28,254.41 L217.70,253.90 L218.32,253.15 L218.88,252.46 L219.42,251.82 L219.95,251.21 L220.49,250.60 L221.07,249.97 L221.70,249.30 L222.19,248.79 L222.71,248.28 L223.25,247.75 L223.81,247.21 L224.39,246.67 L224.97,246.13 L225.56,245.58 L226.14,245.04 L226.73,244.49 L227.30,243.96 L227.86,243.42 L228.40,242.90 L228.99,242.33 L229.57,241.76 L230.15,241.21 L230.73,240.65 L231.30,240.10 L231.86,239.54 L232.41,238.99 L232.95,238.43 L233.48,237.87 L234.00,237.30 L234.52,236.70 L235.01,236.10 L235.48,235.49 L235.94,234.88 L236.40,234.27 L236.87,233.66 L237.35,233.04 L237.86,232.42 L238.40,231.80 L238.90,231.26 L239.42,230.71 L239.96,230.16 L240.51,229.61 L241.08,229.05 L241.65,228.50 L242.23,227.94 L242.81,227.38 L243.40,226.81 L243.97,226.25 L244.54,225.67 L245.10,225.10 L245.62,224.55 L246.14,224.00 L246.66,223.44 L247.17,222.88 L247.68,222.32 L248.20,221.75 L248.71,221.18 L249.22,220.61 L249.74,220.04 L250.25,219.48 L250.77,218.92 L251.28,218.36 L251.80,217.80 L252.36,217.21 L252.92,216.62 L253.49,216.03 L254.06,215.45 L254.63,214.87 L255.20,214.29 L255.76,213.70 L256.32,213.12 L256.88,212.54 L257.43,211.96 L257.97,211.38 L258.50,210.80 L259.03,210.20 L259.55,209.60 L260.06,209.00 L260.56,208.41 L261.06,207.81 L261.55,207.21 L262.04,206.61 L262.54,206.01 L263.05,205.41 L263.57,204.81 L264.10,204.20 L264.59,203.65 L265.08,203.10 L265.57,202.54 L266.07,201.98 L266.58,201.41 L267.09,200.85 L267.60,200.29 L268.12,199.73 L268.64,199.17 L269.17,198.62 L269.71,198.07 L270.25,197.53 L270.80,197.00 L271.38,196.46 L271.98,195.93 L272.59,195.41 L273.22,194.89 L273.85,194.37 L274.49,193.86 L275.13,193.36 L275.76,192.85 L276.38,192.34 L276.99,191.83 L277.58,191.33 L278.15,190.81 L278.70,190.30 L279.29,189.71 L279.85,189.11 L280.39,188.50 L280.91,187.90 L281.42,187.29 L281.93,186.69 L282.43,186.10 L282.94,185.52 L283.46,184.95 L284.00,184.40 L284.57,183.83 L285.15,183.27 L285.72,182.72 L286.30,182.18 L286.89,181.65 L287.48,181.14 L288.07,180.64 L288.68,180.16 L289.30,179.70 L289.97,179.25 L290.62,178.85 L291.27,178.48 L291.93,178.13 L292.63,177.77 L293.36,177.37 L294.15,176.92 L295.00,176.40 L295.46,176.10 L295.94,175.79 L296.44,175.45 L296.97,175.09 L297.52,174.71 L298.08,174.32 L298.67,173.91 L299.26,173.48 L299.87,173.05 L300.50,172.60 L301.13,172.14 L301.77,171.68 L302.42,171.21 L303.08,170.74 L303.74,170.26 L304.41,169.78 L305.07,169.30 L305.74,168.83 L306.40,168.35 L307.06,167.88 L307.72,167.42 L308.37,166.96 L309.01,166.51 L309.64,166.08 L310.26,165.65 L310.87,165.24 L311.46,164.84 L312.04,164.46 L312.60,164.10 L313.30,163.66 L313.99,163.23 L314.68,162.82 L315.35,162.43 L316.02,162.04 L316.68,161.67 L317.34,161.30 L317.99,160.94 L318.63,160.58 L319.27,160.23 L319.91,159.88 L320.54,159.52 L321.17,159.17 L321.80,158.81 L322.43,158.44 L323.05,158.07 L323.68,157.69 L324.30,157.30 L324.94,156.89 L325.57,156.46 L326.19,156.03 L326.81,155.60 L327.42,155.16 L328.03,154.71 L328.63,154.27 L329.24,153.82 L329.84,153.38 L330.44,152.94 L331.05,152.50 L331.66,152.06 L332.28,151.63 L332.90,151.21 L333.52,150.80 L334.16,150.39 L334.80,150.00 L335.46,149.61 L336.14,149.21 L336.82,148.81 L337.52,148.41 L338.22,148.02 L338.93,147.63 L339.64,147.24 L340.35,146.86 L341.06,146.49 L341.76,146.14 L342.47,145.79 L343.16,145.46 L343.85,145.15 L344.53,144.85 L345.20,144.58 L345.86,144.33 L346.50,144.10 L347.32,143.84 L348.12,143.63 L348.90,143.45 L349.66,143.31 L350.42,143.19 L351.17,143.08 L351.93,142.97 L352.70,142.86 L353.49,142.74 L354.30,142.60 L355.01,142.47 L355.73,142.33 L356.46,142.19 L357.20,142.05 L357.95,141.90 L358.70,141.76 L359.46,141.62 L360.22,141.48 L360.97,141.34 L361.73,141.20 L362.49,141.06 L363.25,140.93 L364.00,140.80 L364.75,140.67 L365.51,140.54 L366.28,140.41 L367.04,140.28 L367.81,140.15 L368.58,140.02 L369.34,139.90 L370.11,139.78 L370.86,139.67 L371.61,139.56 L372.35,139.47 L373.08,139.38 L373.80,139.30 L374.61,139.22 L375.40,139.16 L376.18,139.10 L376.94,139.05 L377.70,139.01 L378.46,138.98 L379.22,138.95 L380.00,138.93 L380.79,138.91 L381.60,138.90 L382.37,138.89 L383.16,138.88 L383.95,138.88 L384.75,138.88 L385.57,138.89 L386.38,138.90 L387.20,138.92 L388.03,138.94 L388.85,138.97 L389.67,139.01 L390.49,139.05 L391.30,139.10 L392.05,139.15 L392.81,139.20 L393.57,139.25 L394.32,139.30 L395.08,139.36 L395.84,139.42 L396.59,139.49 L397.35,139.58 L398.10,139.67 L398.85,139.78 L399.61,139.90 L400.35,140.04 L401.10,140.20 L401.86,140.38 L402.62,140.59 L403.38,140.81 L404.14,141.05 L404.90,141.30 L405.65,141.56 L406.41,141.84 L407.16,142.12 L407.91,142.41 L408.66,142.70 L409.41,143.00 L410.15,143.30 L410.90,143.60 L411.60,143.88 L412.30,144.17 L413.00,144.46 L413.70,144.75 L414.39,145.05 L415.09,145.35 L415.78,145.66 L416.47,145.97 L417.16,146.30 L417.85,146.62 L418.54,146.96 L419.23,147.30 L419.92,147.64 L420.60,148.00 L421.26,148.36 L421.90,148.72 L422.54,149.10 L423.17,149.49 L423.80,149.89 L424.43,150.29 L425.06,150.70 L425.69,151.11 L426.33,151.52 L426.97,151.93 L427.63,152.34 L428.30,152.74 L428.98,153.13 L429.68,153.52 L430.40,153.90 L431.02,154.21 L431.66,154.52 L432.31,154.84 L432.98,155.15 L433.67,155.46 L434.36,155.77 L435.06,156.08 L435.77,156.39 L436.49,156.69 L437.21,156.99 L437.93,157.29 L438.65,157.59 L439.37,157.88 L440.08,158.16 L440.79,158.45 L441.49,158.72 L442.18,158.99 L442.86,159.25 L443.52,159.51 L444.17,159.76 L444.80,160.00 L445.60,160.30 L446.38,160.59 L447.14,160.87 L447.88,161.14 L448.61,161.40 L449.33,161.66 L450.05,161.90 L450.77,162.14 L451.50,162.38 L452.23,162.61 L452.97,162.84 L453.72,163.07 L454.50,163.30 L455.20,163.50 L455.91,163.69 L456.62,163.87 L457.34,164.04 L458.07,164.21 L458.81,164.37 L459.55,164.54 L460.29,164.70 L461.03,164.87 L461.78,165.03 L462.52,165.21 L463.26,165.39 L464.00,165.57 L464.74,165.77 L465.47,165.98 L466.20,166.20 L466.94,166.44 L467.68,166.68 L468.43,166.92 L469.18,167.18 L469.92,167.43 L470.67,167.70 L471.41,167.97 L472.16,168.25 L472.90,168.53 L473.63,168.82 L474.36,169.11 L475.08,169.42 L475.80,169.73 L476.51,170.04 L477.21,170.37 L477.90,170.70 L478.59,171.05 L479.27,171.41 L479.93,171.77 L480.59,172.15 L481.23,172.54 L481.87,172.93 L482.51,173.33 L483.14,173.73 L483.78,174.14 L484.42,174.55 L485.06,174.96 L485.70,175.37 L486.36,175.78 L487.02,176.19 L487.70,176.60 L488.32,176.97 L488.96,177.36 L489.59,177.75 L490.24,178.15 L490.89,178.55 L491.54,178.96 L492.20,179.36 L492.86,179.77 L493.52,180.18 L494.18,180.58 L494.84,180.97 L495.50,181.36 L496.16,181.73 L496.82,182.10 L497.47,182.45 L498.12,182.78 L498.76,183.10 L499.40,183.40 L500.16,183.75 L500.93,184.09 L501.69,184.43 L502.44,184.76 L503.20,185.08 L503.95,185.38 L504.70,185.66 L505.45,185.91 L506.19,186.14 L506.93,186.33 L507.66,186.50 L508.38,186.62 L509.10,186.70 L509.91,186.75 L510.72,186.75 L511.51,186.71 L512.29,186.63 L513.08,186.51 L513.85,186.35 L514.63,186.16 L515.42,185.94 L516.20,185.68 L517.00,185.40 L517.64,185.14 L518.28,184.84 L518.93,184.50 L519.59,184.13 L520.24,183.73 L520.90,183.31 L521.56,182.87 L522.21,182.43 L522.87,181.98 L523.52,181.53 L524.17,181.09 L524.81,180.66 L525.45,180.25 L526.08,179.86 L526.70,179.50 L527.43,179.09 L528.14,178.68 L528.84,178.28 L529.53,177.89 L530.21,177.51 L530.90,177.14 L531.59,176.78 L532.29,176.45 L533.01,176.14 L533.74,175.86 L534.50,175.60 L535.20,175.40 L535.90,175.22 L536.62,175.07 L537.34,174.95 L538.07,174.83 L538.81,174.74 L539.56,174.65 L540.32,174.58 L541.09,174.50 L541.88,174.43 L542.67,174.36 L543.48,174.29 L544.30,174.20 L545.00,174.12 L545.73,174.04 L546.49,173.95 L547.26,173.85 L548.06,173.76 L548.86,173.66 L549.68,173.57 L550.50,173.48 L551.32,173.39 L552.14,173.31 L552.96,173.24 L553.76,173.17 L554.54,173.12 L555.31,173.07 L556.05,173.05 L556.76,173.03 L557.45,173.04 L558.09,173.06 L558.70,173.10 L559.67,173.20 L560.55,173.31 L561.37,173.45 L562.15,173.64 L562.91,173.89 L563.69,174.20 L564.50,174.60 L565.10,174.94 L565.70,175.33 L566.30,175.77 L566.91,176.25 L567.52,176.76 L568.12,177.30 L568.73,177.87 L569.34,178.45 L569.94,179.05 L570.54,179.66 L571.13,180.28 L571.72,180.89 L572.30,181.50 L572.81,182.05 L573.31,182.62 L573.80,183.22 L574.28,183.83 L574.76,184.45 L575.24,185.09 L575.72,185.73 L576.19,186.37 L576.67,187.02 L577.14,187.66 L577.62,188.29 L578.11,188.91 L578.59,189.51 L579.09,190.10 L579.59,190.66 L580.10,191.20 L580.67,191.78 L581.23,192.34 L581.78,192.89 L582.34,193.42 L582.90,193.95 L583.46,194.46 L584.04,194.96 L584.63,195.44 L585.24,195.92 L585.86,196.38 L586.51,196.83 L587.19,197.27 L587.90,197.70 L588.51,198.04 L589.15,198.37 L589.81,198.69 L590.49,198.99 L591.19,199.29 L591.91,199.57 L592.65,199.85 L593.39,200.12 L594.14,200.38 L594.90,200.64 L595.66,200.90 L596.43,201.15 L597.19,201.40 L597.95,201.64 L598.70,201.89 L599.45,202.14 L600.18,202.39 L600.90,202.64 L601.60,202.90 L602.36,203.19 L603.10,203.48 L603.85,203.77 L604.58,204.06 L605.31,204.36 L606.04,204.65 L606.77,204.94 L607.49,205.22 L608.21,205.50 L608.93,205.78 L609.65,206.04 L610.38,206.30 L611.10,206.54 L611.83,206.77 L612.56,206.99 L613.30,207.20 L614.08,207.40 L614.88,207.57 L615.69,207.74 L616.51,207.89 L617.33,208.02 L618.15,208.15 L618.98,208.27 L619.79,208.39 L620.60,208.50 L621.39,208.61 L622.16,208.72 L622.91,208.83 L623.64,208.94 L624.34,209.07 L625.00,209.20 L625.94,209.39 L626.81,209.56 L627.63,209.72 L628.42,209.90 L629.21,210.11 L630.03,210.37 L630.90,210.70 L631.51,210.99 L632.14,211.35 L632.80,211.78 L633.47,212.25 L634.15,212.76 L634.84,213.27 L635.53,213.79 L636.21,214.29 L636.89,214.75 L637.56,215.16 L638.21,215.51 L638.83,215.78 L639.43,215.95 L640.00,216.00 L640.80,215.90 L641.57,215.65 L642.30,215.26 L643.01,214.76 L643.69,214.19 L644.35,213.56 L645.00,212.90 L645.44,212.40 L645.87,211.86 L646.28,211.26 L646.68,210.63 L647.07,209.97 L647.45,209.27 L647.82,208.56 L648.18,207.83 L648.55,207.08 L648.91,206.33 L649.27,205.58 L649.63,204.84 L650.00,204.10 L650.33,203.44 L650.66,202.76 L650.98,202.07 L651.30,201.37 L651.62,200.67 L651.94,199.95 L652.25,199.23 L652.57,198.51 L652.88,197.78 L653.20,197.06 L653.51,196.33 L653.83,195.61 L654.14,194.90 L654.46,194.19 L654.78,193.49 L655.10,192.80 L655.43,192.10 L655.75,191.39 L656.07,190.67 L656.39,189.95 L656.70,189.23 L657.02,188.51 L657.34,187.80 L657.66,187.09 L657.99,186.40 L658.32,185.73 L658.66,185.07 L659.00,184.44 L659.36,183.83 L659.72,183.25 L660.10,182.70 L660.61,182.02 L661.12,181.39 L661.63,180.80 L662.16,180.24 L662.71,179.71 L663.27,179.19 L663.86,178.69 L664.46,178.20 L665.10,177.70 L665.72,177.26 L666.38,176.83 L667.07,176.43 L667.79,176.04 L668.52,175.66 L669.26,175.28 L669.99,174.90 L670.71,174.52 L671.41,174.13 L672.08,173.72 L672.70,173.30 L673.40,172.79 L674.07,172.28 L674.71,171.77 L675.33,171.25 L675.94,170.71 L676.53,170.15 L677.12,169.54 L677.70,168.90 L678.19,168.32 L678.67,167.70 L679.13,167.06 L679.59,166.39 L680.05,165.71 L680.50,165.01 L680.94,164.29 L681.38,163.57 L681.82,162.85 L682.26,162.12 L682.70,161.40 L683.09,160.74 L683.47,160.06 L683.85,159.35 L684.22,158.63 L684.59,157.91 L684.95,157.18 L685.32,156.46 L685.70,155.75 L686.08,155.06 L686.46,154.39 L686.86,153.76 L687.27,153.16 L687.70,152.60 L688.28,151.88 L688.89,151.15 L689.51,150.43 L690.14,149.76 L690.78,149.17 L691.43,148.70 L692.07,148.36 L692.70,148.20 L693.45,148.24 L694.22,148.49 L695.00,148.91 L695.75,149.44 L696.46,150.05 L697.10,150.70 L697.57,151.27 L697.99,151.92 L698.38,152.63 L698.74,153.39 L699.08,154.19 L699.40,155.03 L699.70,155.88 L700.00,156.74 L700.30,157.60 L700.54,158.30 L700.76,159.01 L700.98,159.73 L701.18,160.46 L701.38,161.21 L701.57,161.97 L701.75,162.74 L701.93,163.53 L702.11,164.33 L702.28,165.15 L702.45,165.99 L702.63,166.83 L702.80,167.70 L702.93,168.36 L703.05,169.03 L703.18,169.71 L703.30,170.40 L703.42,171.11 L703.54,171.83 L703.65,172.55 L703.77,173.28 L703.88,174.02 L703.99,174.77 L704.11,175.53 L704.22,176.29 L704.32,177.05 L704.43,177.82 L704.54,178.59 L704.65,179.36 L704.76,180.14 L704.87,180.91 L704.97,181.68 L705.08,182.46 L705.19,183.23 L705.30,184.00 L705.40,184.70 L705.50,185.40 L705.60,186.10 L705.70,186.80 L705.80,187.51 L705.89,188.21 L705.99,188.92 L706.09,189.63 L706.19,190.34 L706.28,191.06 L706.38,191.78 L706.48,192.49 L706.57,193.22 L706.67,193.94 L706.77,194.66 L706.86,195.39 L706.96,196.12 L707.05,196.85 L707.15,197.59 L707.24,198.33 L707.33,199.06 L707.43,199.81 L707.52,200.55 L707.61,201.30 L707.71,202.05 L707.80,202.80 L707.89,203.51 L707.98,204.24 L708.07,204.98 L708.16,205.72 L708.25,206.47 L708.34,207.23 L708.43,208.00 L708.52,208.77 L708.62,209.54 L708.71,210.32 L708.80,211.10 L708.89,211.88 L708.98,212.66 L709.08,213.44 L709.17,214.22 L709.25,215.00 L709.34,215.77 L709.43,216.54 L709.51,217.30 L709.59,218.05 L709.68,218.80 L709.76,219.53 L709.83,220.26 L709.91,220.98 L709.98,221.68 L710.05,222.38 L710.12,223.06 L710.18,223.72 L710.24,224.37 L710.30,225.00 L710.38,225.88 L710.44,226.73 L710.50,227.54 L710.55,228.33 L710.60,229.10 L710.64,229.85 L710.68,230.59 L710.72,231.32 L710.76,232.05 L710.80,232.79 L710.85,233.53 L710.90,234.29 L710.96,235.07 L711.02,235.87 L711.10,236.70 L711.17,237.37 L711.24,238.05 L711.31,238.75 L711.39,239.45 L711.47,240.16 L711.55,240.89 L711.64,241.62 L711.73,242.35 L711.82,243.09 L711.92,243.84 L712.01,244.59 L712.11,245.34 L712.21,246.09 L712.31,246.84 L712.41,247.59 L712.51,248.33 L712.61,249.08 L712.71,249.82 L712.81,250.55 L712.91,251.27 L713.01,251.99 L713.10,252.70 L713.20,253.40 L713.31,254.17 L713.41,254.93 L713.51,255.69 L713.62,256.45 L713.72,257.20 L713.82,257.94 L713.92,258.69 L714.03,259.43 L714.13,260.17 L714.24,260.90 L714.35,261.63 L714.46,262.36 L714.57,263.09 L714.68,263.81 L714.80,264.53 L714.92,265.25 L715.04,265.97 L715.17,266.69 L715.30,267.40 L715.44,268.16 L715.58,268.91 L715.73,269.67 L715.87,270.42 L716.02,271.16 L716.17,271.91 L716.32,272.65 L716.47,273.39 L716.63,274.13 L716.80,274.86 L716.96,275.59 L717.14,276.32 L717.32,277.04 L717.50,277.76 L717.69,278.48 L717.89,279.19 L718.10,279.90 L718.32,280.63 L718.54,281.37 L718.77,282.12 L719.01,282.87 L719.25,283.62 L719.50,284.37 L719.75,285.11 L720.01,285.85 L720.27,286.57 L720.54,287.29 L720.82,287.98 L721.10,288.65 L721.39,289.31 L721.69,289.93 L721.99,290.53 L722.30,291.10 L722.77,291.91 L723.23,292.67 L723.71,293.40 L724.20,294.08 L724.72,294.72 L725.27,295.32 L725.86,295.88 L726.50,296.40 L727.16,296.84 L727.87,297.22 L728.62,297.56 L729.41,297.86 L730.21,298.14 L731.03,298.40 L731.84,298.66 L732.63,298.92 L733.40,299.20 L734.21,299.54 L735.02,299.92 L735.84,300.32 L736.65,300.70 L737.45,301.04 L738.23,301.30 L738.98,301.47 L739.70,301.50 L740.60,301.31 L741.45,300.92 L742.27,300.41 L743.07,299.87 L743.90,299.40 L744.74,298.92 L745.59,298.38 L746.43,297.87 L747.27,297.51 L748.10,297.40 L748.82,297.54 L749.56,297.85 L750.29,298.30 L751.00,298.85 L751.67,299.46 L752.30,300.10 L752.76,300.64 L753.19,301.23 L753.60,301.87 L753.98,302.55 L754.35,303.26 L754.70,304.01 L755.04,304.79 L755.37,305.58 L755.70,306.40 L755.94,307.05 L756.17,307.73 L756.38,308.43 L756.58,309.16 L756.77,309.91 L756.95,310.67 L757.13,311.45 L757.31,312.24 L757.50,313.03 L757.68,313.82 L757.88,314.61 L758.09,315.40 L758.31,316.18 L758.54,316.95 L758.80,317.70 L759.06,318.42 L759.33,319.15 L759.61,319.88 L759.89,320.62 L760.18,321.36 L760.48,322.09 L760.79,322.83 L761.10,323.56 L761.43,324.28 L761.75,325.00 L762.09,325.70 L762.44,326.39 L762.79,327.07 L763.15,327.73 L763.52,328.38 L763.90,329.00 L764.37,329.70 L764.86,330.37 L765.37,331.01 L765.90,331.62 L766.45,332.22 L766.99,332.81 L767.54,333.39 L768.08,333.98 L768.62,334.58 L769.13,335.19 L769.63,335.83 L770.10,336.50 L770.50,337.12 L770.90,337.74 L771.29,338.37 L771.67,339.01 L772.04,339.66 L772.41,340.32 L772.76,340.98 L773.11,341.66 L773.45,342.34 L773.78,343.03 L774.10,343.73 L774.41,344.45 L774.71,345.17 L775.00,345.90 L775.25,346.58 L775.49,347.26 L775.71,347.96 L775.93,348.66 L776.13,349.36 L776.32,350.08 L776.51,350.80 L776.69,351.54 L776.87,352.28 L777.04,353.02 L777.21,353.78 L777.39,354.55 L777.56,355.32 L777.74,356.10 L777.92,356.89 L778.11,357.69 L778.30,358.50 L778.46,359.17 L778.63,359.85 L778.80,360.55 L778.96,361.25 L779.13,361.97 L779.30,362.69 L779.48,363.42 L779.65,364.16 L779.82,364.90 L779.99,365.65 L780.17,366.40 L780.34,367.15 L780.51,367.91 L780.68,368.67 L780.85,369.43 L781.02,370.19 L781.19,370.95 L781.36,371.71 L781.53,372.47 L781.70,373.22 L781.86,373.97 L782.02,374.71 L782.18,375.45 L782.34,376.18 L782.50,376.90 L782.66,377.64 L782.82,378.38 L782.97,379.11 L783.13,379.84 L783.28,380.56 L783.43,381.29 L783.59,382.01 L783.74,382.73 L783.88,383.45 L784.03,384.17 L784.18,384.88 L784.32,385.60 L784.47,386.32 L784.61,387.04 L784.76,387.76 L784.90,388.48 L785.05,389.20 L785.19,389.92 L785.33,390.65 L785.47,391.38 L785.62,392.12 L785.76,392.86 L785.90,393.60 L786.04,394.32 L786.17,395.05 L786.31,395.79 L786.45,396.52 L786.59,397.27 L786.72,398.01 L786.86,398.76 L787.00,399.51 L787.13,400.27 L787.27,401.02 L787.40,401.78 L787.53,402.53 L787.67,403.29 L787.80,404.04 L787.93,404.79 L788.06,405.54 L788.19,406.29 L788.32,407.03 L788.45,407.77 L788.58,408.51 L788.71,409.24 L788.83,409.96 L788.96,410.68 L789.08,411.39 L789.20,412.10 L789.33,412.89 L789.46,413.68 L789.58,414.46 L789.70,415.25 L789.82,416.03 L789.93,416.81 L790.04,417.59 L790.15,418.37 L790.26,419.13 L790.37,419.90 L790.48,420.65 L790.60,421.40 L790.72,422.15 L790.84,422.88 L790.97,423.61 L791.10,424.33 L791.24,425.04 L791.38,425.74 L791.54,426.42 L791.70,427.10 L791.90,427.94 L792.11,428.83 L792.33,429.76 L792.55,430.71 L792.78,431.66 L793.01,432.59 L793.25,433.49 L793.50,434.33 L793.75,435.10 L794.01,435.78 L794.27,436.34 L794.54,436.78 L794.82,437.07 L795.10,437.20 L795.55,437.08 L796.02,436.66 L796.52,435.99 L797.02,435.14 L797.50,434.19 L797.97,433.19 L798.40,432.20 L798.61,431.67 L798.82,431.12 L799.01,430.53 L799.20,429.92 L799.39,429.28 L799.56,428.62 L799.73,427.94 L799.90,427.24 L800.06,426.52 L800.21,425.78 L800.36,425.03 L800.51,424.27 L800.66,423.50 L800.80,422.71 L800.94,421.92 L801.09,421.12 L801.23,420.32 L801.37,419.52 L801.51,418.71 L801.65,417.90 L801.80,417.10 L801.92,416.44 L802.03,415.78 L802.15,415.11 L802.26,414.43 L802.37,413.74 L802.48,413.05 L802.59,412.34 L802.70,411.64 L802.80,410.92 L802.91,410.20 L803.01,409.48 L803.12,408.75 L803.22,408.01 L803.32,407.27 L803.42,406.53 L803.52,405.78 L803.62,405.03 L803.72,404.28 L803.82,403.52 L803.91,402.76 L804.01,402.00 L804.11,401.24 L804.21,400.47 L804.31,399.71 L804.40,398.94 L804.50,398.18 L804.60,397.41 L804.70,396.65 L804.80,395.88 L804.90,395.12 L805.00,394.36 L805.10,393.60 L805.19,392.90 L805.29,392.19 L805.38,391.48 L805.47,390.76 L805.56,390.04 L805.65,389.31 L805.74,388.58 L805.84,387.85 L805.93,387.12 L806.02,386.38 L806.11,385.64 L806.20,384.90 L806.29,384.16 L806.38,383.42 L806.47,382.67 L806.56,381.93 L806.65,381.18 L806.74,380.44 L806.83,379.70 L806.92,378.95 L807.01,378.21 L807.10,377.47 L807.19,376.73 L807.28,376.00 L807.37,375.27 L807.46,374.54 L807.55,373.81 L807.65,373.09 L807.74,372.37 L807.83,371.65 L807.93,370.94 L808.02,370.24 L808.11,369.54 L808.21,368.84 L808.31,368.16 L808.40,367.47 L808.50,366.80 L808.61,366.02 L808.72,365.24 L808.82,364.45 L808.91,363.65 L809.01,362.85 L809.10,362.05 L809.20,361.25 L809.29,360.44 L809.38,359.64 L809.47,358.84 L809.56,358.05 L809.65,357.26 L809.75,356.48 L809.85,355.71 L809.95,354.95 L810.05,354.20 L810.16,353.46 L810.27,352.74 L810.39,352.04 L810.52,351.36 L810.65,350.69 L810.79,350.05 L810.93,349.42 L811.09,348.82 L811.25,348.25 L811.42,347.71 L811.61,347.19 L811.80,346.70 L812.22,345.75 L812.68,344.80 L813.18,343.90 L813.69,343.08 L814.21,342.38 L814.73,341.84 L815.23,341.50 L815.70,341.40 L816.10,341.54 L816.49,341.88 L816.88,342.39 L817.26,343.05 L817.64,343.82 L818.00,344.68 L818.37,345.59 L818.72,346.54 L819.06,347.48 L819.40,348.40 L819.60,348.97 L819.80,349.56 L820.00,350.17 L820.19,350.81 L820.37,351.48 L820.56,352.16 L820.74,352.86 L820.91,353.57 L821.09,354.31 L821.26,355.05 L821.43,355.81 L821.60,356.58 L821.76,357.36 L821.92,358.14 L822.08,358.93 L822.24,359.73 L822.39,360.52 L822.55,361.32 L822.70,362.12 L822.85,362.91 L823.00,363.70 L823.15,364.49 L823.30,365.27 L823.45,366.04 L823.60,366.80 L823.74,367.50 L823.87,368.20 L824.00,368.90 L824.13,369.59 L824.26,370.29 L824.38,370.99 L824.51,371.69 L824.63,372.38 L824.75,373.08 L824.87,373.78 L824.99,374.49 L825.11,375.19 L825.22,375.90 L825.34,376.60 L825.45,377.31 L825.57,378.03 L825.68,378.74 L825.79,379.46 L825.90,380.19 L826.01,380.91 L826.12,381.64 L826.23,382.38 L826.34,383.12 L826.46,383.87 L826.57,384.62 L826.68,385.37 L826.79,386.13 L826.90,386.90 L827.00,387.57 L827.09,388.25 L827.19,388.93 L827.29,389.61 L827.39,390.29 L827.48,390.98 L827.58,391.67 L827.67,392.36 L827.77,393.05 L827.86,393.75 L827.96,394.45 L828.05,395.16 L828.15,395.86 L828.24,396.57 L828.33,397.28 L828.43,398.00 L828.52,398.72 L828.61,399.44 L828.71,400.16 L828.80,400.89 L828.89,401.62 L828.98,402.35 L829.07,403.08 L829.16,403.82 L829.25,404.56 L829.34,405.31 L829.43,406.06 L829.52,406.81 L829.61,407.56 L829.70,408.32 L829.78,409.08 L829.87,409.84 L829.96,410.61 L830.04,411.37 L830.13,412.15 L830.21,412.92 L830.30,413.70 L830.37,414.36 L830.44,415.03 L830.51,415.70 L830.58,416.38 L830.65,417.07 L830.72,417.76 L830.79,418.45 L830.86,419.15 L830.93,419.86 L831.00,420.57 L831.06,421.28 L831.13,422.00 L831.20,422.72 L831.26,423.45 L831.33,424.18 L831.40,424.91 L831.46,425.64 L831.53,426.37 L831.59,427.11 L831.66,427.85 L831.72,428.59 L831.79,429.33 L831.85,430.07 L831.92,430.81 L831.98,431.55 L832.05,432.30 L832.11,433.04 L832.17,433.78 L832.24,434.52 L832.30,435.26 L832.36,435.99 L832.42,436.73 L832.49,437.46 L832.55,438.20 L832.61,438.92 L832.67,439.65 L832.74,440.37 L832.80,441.09 L832.86,441.81 L832.92,442.52 L832.98,443.22 L833.05,443.93 L833.11,444.63 L833.17,445.32 L833.23,446.01 L833.29,446.69 L833.35,447.36 L833.42,448.03 L833.48,448.69 L833.54,449.35 L833.60,450.00 L833.68,450.80 L833.75,451.59 L833.83,452.37 L833.90,453.14 L833.98,453.91 L834.05,454.67 L834.13,455.42 L834.20,456.16 L834.28,456.90 L834.35,457.63 L834.43,458.36 L834.50,459.09 L834.57,459.81 L834.65,460.53 L834.72,461.24 L834.79,461.96 L834.86,462.67 L834.94,463.38 L835.01,464.09 L835.08,464.80 L835.15,465.51 L835.23,466.22 L835.30,466.93 L835.37,467.64 L835.44,468.36 L835.52,469.08 L835.59,469.80 L835.66,470.53 L835.73,471.26 L835.81,472.00 L835.88,472.74 L835.95,473.49 L836.03,474.24 L836.10,475.00 L836.17,475.69 L836.23,476.38 L836.30,477.07 L836.36,477.77 L836.43,478.46 L836.50,479.16 L836.56,479.87 L836.63,480.57 L836.70,481.28 L836.76,481.98 L836.83,482.69 L836.90,483.40 L836.96,484.12 L837.03,484.83 L837.10,485.55 L837.16,486.26 L837.23,486.98 L837.30,487.70 L837.36,488.42 L837.43,489.14 L837.50,489.86 L837.56,490.59 L837.63,491.31 L837.69,492.03 L837.76,492.76 L837.83,493.48 L837.89,494.20 L837.96,494.93 L838.02,495.65 L838.09,496.38 L838.16,497.10 L838.22,497.82 L838.29,498.55 L838.35,499.27 L838.42,499.99 L838.48,500.71 L838.54,501.43 L838.61,502.15 L838.67,502.87 L838.74,503.58 L838.80,504.30 L838.86,505.01 L838.93,505.73 L838.99,506.44 L839.05,507.16 L839.11,507.87 L839.18,508.59 L839.24,509.30 L839.30,510.02 L839.36,510.73 L839.42,511.45 L839.49,512.16 L839.55,512.87 L839.61,513.59 L839.67,514.30 L839.73,515.02 L839.79,515.73 L839.85,516.45 L839.91,517.16 L839.97,517.88 L840.03,518.59 L840.09,519.31 L840.15,520.02 L840.21,520.74 L840.27,521.45 L840.33,522.17 L840.39,522.88 L840.45,523.59 L840.51,524.31 L840.57,525.02 L840.63,525.74 L840.69,526.45 L840.75,527.17 L840.82,527.88 L840.88,528.60 L840.94,529.31 L841.00,530.03 L841.06,530.74 L841.12,531.46 L841.18,532.17 L841.24,532.89 L841.30,533.60 L841.36,534.32 L841.42,535.04 L841.48,535.76 L841.54,536.49 L841.59,537.23 L841.65,537.96 L841.71,538.70 L841.76,539.45 L841.82,540.19 L841.88,540.94 L841.93,541.68 L841.99,542.43 L842.04,543.18 L842.10,543.93 L842.15,544.68 L842.21,545.42 L842.26,546.17 L842.32,546.92 L842.37,547.66 L842.43,548.40 L842.48,549.14 L842.54,549.88 L842.60,550.62 L842.66,551.35 L842.71,552.07 L842.77,552.80 L842.83,553.52 L842.90,554.23 L842.96,554.94 L843.02,555.64 L843.08,556.34 L843.15,557.03 L843.22,557.71 L843.28,558.39 L843.35,559.06 L843.42,559.72 L843.50,560.37 L843.57,561.02 L843.64,561.66 L843.72,562.28 L843.80,562.90 L843.91,563.73 L844.01,564.57 L844.11,565.42 L844.21,566.26 L844.31,567.11 L844.41,567.96 L844.51,568.80 L844.61,569.63 L844.72,570.46 L844.82,571.27 L844.93,572.06 L845.05,572.84 L845.16,573.60 L845.29,574.33 L845.41,575.04 L845.55,575.73 L845.69,576.38 L845.83,577.00 L845.99,577.58 L846.15,578.12 L846.33,578.63 L846.51,579.09 L846.70,579.50 L847.42,580.71 L848.21,581.57 L849.10,582.00 L849.92,581.98 L850.84,581.67 L851.76,581.12 L852.60,580.40 L852.97,579.92 L853.30,579.30 L853.61,578.57 L853.90,577.75 L854.17,576.88 L854.43,575.97 L854.69,575.06 L854.96,574.17 L855.23,573.34 L855.51,572.59 L855.81,571.95 L856.14,571.44 L856.50,571.10 L857.41,570.80 L858.39,570.89 L859.40,571.10 L860.37,571.50 L861.40,572.13 L862.40,572.62 L863.30,572.60 L863.64,572.37 L863.96,572.03 L864.26,571.58 L864.54,571.03 L864.81,570.40 L865.06,569.70 L865.30,568.94 L865.52,568.12 L865.74,567.25 L865.95,566.36 L866.16,565.44 L866.37,564.52 L866.57,563.59 L866.78,562.67 L866.99,561.77 L867.20,560.90 L867.35,560.29 L867.50,559.67 L867.65,559.03 L867.80,558.39 L867.94,557.73 L868.08,557.06 L868.22,556.39 L868.35,555.70 L868.49,555.01 L868.62,554.30 L868.75,553.59 L868.88,552.88 L869.01,552.15 L869.13,551.42 L869.26,550.69 L869.38,549.95 L869.51,549.21 L869.63,548.46 L869.75,547.71 L869.88,546.95 L870.00,546.20 L870.12,545.44 L870.24,544.68 L870.36,543.93 L870.48,543.17 L870.61,542.41 L870.73,541.66 L870.85,540.90 L870.98,540.15 L871.10,539.40 L871.22,538.70 L871.33,538.00 L871.45,537.29 L871.56,536.58 L871.67,535.87 L871.78,535.15 L871.90,534.42 L872.01,533.70 L872.12,532.97 L872.23,532.24 L872.34,531.50 L872.45,530.77 L872.56,530.03 L872.67,529.29 L872.78,528.55 L872.89,527.81 L872.99,527.07 L873.10,526.33 L873.21,525.58 L873.32,524.84 L873.43,524.10 L873.54,523.36 L873.65,522.63 L873.76,521.89 L873.87,521.16 L873.98,520.43 L874.09,519.70 L874.20,518.97 L874.31,518.25 L874.43,517.53 L874.54,516.82 L874.65,516.10 L874.77,515.40 L874.88,514.70 L875.00,514.00 L875.12,513.25 L875.25,512.49 L875.37,511.72 L875.49,510.95 L875.61,510.16 L875.73,509.38 L875.85,508.59 L875.97,507.80 L876.09,507.01 L876.20,506.22 L876.32,505.43 L876.44,504.64 L876.56,503.86 L876.68,503.09 L876.81,502.32 L876.93,501.56 L877.06,500.81 L877.18,500.08 L877.31,499.35 L877.44,498.64 L877.57,497.95 L877.71,497.27 L877.85,496.61 L877.99,495.97 L878.13,495.35 L878.28,494.75 L878.43,494.17 L878.58,493.62 L878.74,493.10 L878.90,492.60 L879.24,491.59 L879.58,490.58 L879.92,489.61 L880.28,488.72 L880.65,487.95 L881.04,487.33 L881.46,486.90 L881.90,486.70 L882.50,486.79 L883.16,487.19 L883.86,487.84 L884.55,488.66 L885.21,489.61 L885.80,490.60 L886.04,491.07 L886.27,491.58 L886.48,492.13 L886.68,492.71 L886.88,493.32 L887.06,493.97 L887.23,494.64 L887.40,495.34 L887.56,496.06 L887.71,496.80 L887.85,497.57 L888.00,498.35 L888.14,499.14 L888.27,499.95 L888.41,500.76 L888.54,501.59 L888.68,502.42 L888.81,503.25 L888.95,504.09 L889.09,504.92 L889.24,505.75 L889.38,506.58 L889.54,507.39 L889.70,508.20 L889.84,508.86 L889.97,509.54 L890.11,510.22 L890.24,510.90 L890.38,511.60 L890.52,512.30 L890.66,513.01 L890.80,513.73 L890.94,514.45 L891.07,515.18 L891.21,515.91 L891.35,516.64 L891.49,517.38 L891.63,518.12 L891.77,518.87 L891.91,519.62 L892.05,520.37 L892.19,521.12 L892.33,521.87 L892.47,522.62 L892.61,523.37 L892.74,524.12 L892.88,524.87 L893.02,525.62 L893.16,526.36 L893.29,527.11 L893.43,527.85 L893.57,528.58 L893.70,529.32 L893.84,530.04 L893.97,530.77 L894.10,531.48 L894.24,532.20 L894.37,532.90 L894.50,533.60 L894.64,534.34 L894.78,535.08 L894.92,535.81 L895.06,536.53 L895.19,537.25 L895.33,537.97 L895.47,538.68 L895.60,539.39 L895.74,540.09 L895.88,540.80 L896.01,541.50 L896.15,542.20 L896.28,542.90 L896.42,543.60 L896.55,544.30 L896.68,544.99 L896.81,545.69 L896.95,546.39 L897.08,547.09 L897.21,547.79 L897.34,548.50 L897.47,549.20 L897.60,549.91 L897.73,550.63 L897.86,551.34 L897.99,552.07 L898.12,552.79 L898.25,553.52 L898.37,554.26 L898.50,555.00 L898.62,555.70 L898.73,556.42 L898.84,557.14 L898.95,557.88 L899.05,558.63 L899.16,559.39 L899.26,560.16 L899.36,560.93 L899.46,561.71 L899.56,562.49 L899.66,563.28 L899.75,564.07 L899.85,564.86 L899.95,565.66 L900.04,566.45 L900.14,567.24 L900.24,568.02 L900.34,568.81 L900.44,569.58 L900.54,570.35 L900.64,571.12 L900.75,571.87 L900.85,572.62 L900.96,573.35 L901.08,574.07 L901.19,574.78 L901.31,575.48 L901.43,576.16 L901.56,576.82 L901.69,577.47 L901.82,578.10 L901.96,578.71 L902.10,579.29 L902.25,579.86 L902.40,580.40 L902.68,581.36 L902.96,582.34 L903.25,583.32 L903.55,584.28 L903.86,585.21 L904.17,586.08 L904.50,586.89 L904.83,587.60 L905.18,588.20 L905.54,588.69 L905.91,589.02 L906.30,589.20 L906.91,589.04 L907.57,588.43 L908.26,587.59 L908.94,586.74 L909.60,586.11 L910.20,585.90 L910.75,586.13 L911.28,586.62 L911.77,587.33 L912.24,588.20 L912.68,589.17 L913.10,590.20 L913.27,590.67 L913.43,591.19 L913.58,591.76 L913.73,592.36 L913.86,592.99 L913.99,593.67 L914.12,594.37 L914.23,595.09 L914.34,595.84 L914.45,596.61 L914.55,597.40 L914.65,598.20 L914.74,599.01 L914.83,599.83 L914.92,600.65 L915.01,601.48 L915.10,602.30 L915.18,603.12 L915.27,603.92 L915.35,604.72 L915.44,605.50 L915.53,606.27 L915.61,607.01 L915.71,607.73 L915.80,608.42 L915.90,609.07 L916.00,609.70 L916.16,610.60 L916.31,611.47 L916.47,612.30 L916.62,613.11 L916.78,613.90 L916.93,614.68 L917.08,615.44 L917.24,616.19 L917.39,616.94 L917.54,617.69 L917.69,618.45 L917.85,619.22 L918.00,620.00" stroke="#000" stroke-width="3"/>
<path d="M954.50,620.00 L954.55,619.24 L954.59,618.49 L954.63,617.74 L954.67,616.99 L954.70,616.24 L954.74,615.49 L954.78,614.74 L954.83,613.98 L954.88,613.22 L954.95,612.45 L955.02,611.68 L955.10,610.90 L955.19,610.16 L955.28,609.41 L955.38,608.65 L955.48,607.88 L955.59,607.10 L955.71,606.32 L955.83,605.54 L955.95,604.76 L956.08,603.99 L956.22,603.22 L956.36,602.47 L956.50,601.73 L956.65,601.01 L956.80,600.30 L956.99,599.45 L957.19,598.60 L957.40,597.76 L957.62,596.92 L957.84,596.11 L958.06,595.31 L958.29,594.55 L958.53,593.82 L958.76,593.14 L959.00,592.50 L959.42,591.59 L959.86,590.84 L960.29,590.07 L960.70,589.10 L960.87,588.55 L961.04,587.93 L961.19,587.27 L961.34,586.55 L961.48,585.80 L961.62,585.02 L961.76,584.22 L961.89,583.40 L962.03,582.58 L962.16,581.77 L962.30,580.96 L962.44,580.17 L962.59,579.41 L962.74,578.68 L962.90,578.00 L963.12,577.10 L963.32,576.21 L963.53,575.34 L963.74,574.49 L963.96,573.66 L964.20,572.86 L964.46,572.10 L964.76,571.38 L965.10,570.70 L965.59,569.85 L966.16,568.96 L966.76,568.13 L967.37,567.44 L967.96,566.97 L968.50,566.80 L969.10,567.05 L969.67,567.67 L970.20,568.56 L970.70,569.60 L970.89,570.09 L971.06,570.70 L971.23,571.41 L971.38,572.20 L971.53,573.07 L971.66,574.00 L971.80,574.97 L971.92,575.97 L972.04,576.98 L972.16,578.00 L972.27,579.00 L972.39,579.98 L972.50,580.91 L972.61,581.79 L972.73,582.60 L972.84,583.33 L972.96,583.96 L973.09,584.47 L973.22,584.86 L973.36,585.11 L973.50,585.20 L973.74,585.04 L973.98,584.57 L974.22,583.85 L974.46,582.95 L974.71,581.93 L974.97,580.86 L975.24,579.81 L975.51,578.83 L975.80,578.00 L976.15,577.06 L976.52,576.02 L976.91,574.97 L977.30,574.00 L977.70,573.19 L978.10,572.63 L978.50,572.40 L979.09,572.67 L979.69,573.44 L980.28,574.51 L980.80,575.70 L980.99,576.20 L981.16,576.75 L981.33,577.35 L981.48,577.98 L981.62,578.65 L981.76,579.35 L981.88,580.08 L982.00,580.83 L982.11,581.61 L982.22,582.41 L982.32,583.22 L982.42,584.05 L982.52,584.89 L982.61,585.73 L982.71,586.57 L982.80,587.42 L982.90,588.26 L983.00,589.10 L983.08,589.76 L983.16,590.43 L983.23,591.13 L983.31,591.84 L983.38,592.56 L983.45,593.30 L983.52,594.06 L983.59,594.82 L983.66,595.59 L983.73,596.36 L983.80,597.15 L983.86,597.93 L983.93,598.72 L983.99,599.51 L984.05,600.30 L984.11,601.08 L984.16,601.86 L984.22,602.64 L984.27,603.40 L984.32,604.16 L984.37,604.91 L984.42,605.64 L984.47,606.36 L984.51,607.07 L984.55,607.75 L984.59,608.42 L984.63,609.07 L984.67,609.70 L984.70,610.30 L984.75,611.24 L984.79,612.13 L984.82,612.99 L984.85,613.81 L984.87,614.61 L984.89,615.38 L984.91,616.15 L984.93,616.90 L984.94,617.66 L984.96,618.43 L984.98,619.20 L985.00,620.00" stroke="#000" stroke-width="3"/>
</g>
<rect x="128.50" y="29.30" width="943.80" height="582.10" fill="none" stroke="#000" stroke-width="1.6"/>
<rect x="132.8" y="34.3" width="240.4" height="60" fill="#fff" stroke="#000" stroke-width="1.8"/>
<path d="M142.8,51.1H221.4" stroke="#ff0000" stroke-width="3"/>
<path d="M142.8,77.5H221.4" stroke="#000" stroke-width="3"/>
<text x="244.80" y="56.70" font-size="26.50" textLength="109.15" lengthAdjust="spacingAndGlyphs">Impedance</text>
<text x="245.30" y="83.40" font-size="26.50" textLength="24.82" lengthAdjust="spacingAndGlyphs">on</text>
<text x="278.00" y="83.40" font-size="26.50" textLength="38.75" lengthAdjust="spacingAndGlyphs">axis</text>
<text x="513.90" y="683.90" font-size="26.50" textLength="101.83" lengthAdjust="spacingAndGlyphs">Frequency</text>
<text x="625.90" y="683.90" font-size="26.50" textLength="47.70" lengthAdjust="spacingAndGlyphs">(Hz)</text>
<text transform="rotate(-90)" x="-550.60" y="54.90" font-size="22.50" textLength="52.78" lengthAdjust="spacingAndGlyphs">SPL</text>
<text transform="rotate(-90)" x="-488.00" y="54.90" font-size="22.50" textLength="58.04" lengthAdjust="spacingAndGlyphs">(dB)</text>
<text transform="rotate(-90)" x="-417.00" y="54.90" font-size="22.50" textLength="27.41" lengthAdjust="spacingAndGlyphs">@</text>
<text transform="rotate(-90)" x="-379.20" y="54.90" font-size="22.50" textLength="74.24" lengthAdjust="spacingAndGlyphs">2.83V</text>
<text transform="rotate(-90)" x="-302.30" y="54.30" font-size="26" font-weight="bold">,</text>
<text transform="rotate(-90)" x="-280.20" y="54.90" font-size="22.50" textLength="39.05" lengthAdjust="spacingAndGlyphs">1m</text>
<text transform="rotate(-90)" x="-238.90" y="54.30" font-size="26" font-weight="bold">,</text>
<text transform="rotate(-90)" x="-216.00" y="54.90" font-size="22.50" textLength="47.79" lengthAdjust="spacingAndGlyphs">half</text>
<text transform="rotate(-90)" x="-160.00" y="54.90" font-size="22.50" textLength="69.97" lengthAdjust="spacingAndGlyphs">space</text>
<text transform="rotate(-90)" x="-292.70" y="1169.90" font-size="21.50" textLength="87.37" lengthAdjust="spacingAndGlyphs">(Ohm)</text>
<text transform="rotate(-90)" x="-434.90" y="1169.90" font-size="21.50" textLength="134.31" lengthAdjust="spacingAndGlyphs">Impedance</text>
<text x="108.6" y="619.00" font-size="22" text-anchor="end">55</text>
<text x="108.6" y="560.79" font-size="22" text-anchor="end">60</text>
<text x="108.6" y="502.58" font-size="22" text-anchor="end">65</text>
<text x="108.6" y="444.37" font-size="22" text-anchor="end">70</text>
<text x="108.6" y="386.16" font-size="22" text-anchor="end">75</text>
<text x="108.6" y="327.95" font-size="22" text-anchor="end">80</text>
<text x="108.6" y="269.74" font-size="22" text-anchor="end">85</text>
<text x="108.6" y="211.53" font-size="22" text-anchor="end">90</text>
<text x="108.6" y="153.32" font-size="22" text-anchor="end">95</text>
<text x="108.6" y="95.11" font-size="22" text-anchor="end">100</text>
<text x="108.6" y="36.90" font-size="22" text-anchor="end">105</text>
<text x="1091.4" y="619.00" font-size="22">0</text>
<text x="1091.4" y="473.48" font-size="22">50</text>
<text x="1091.4" y="327.95" font-size="22">100</text>
<text x="1091.4" y="182.42" font-size="22">150</text>
<text x="1091.4" y="36.90" font-size="22">200</text>
<text x="128.50" y="650.8" font-size="22" text-anchor="middle">20</text>
<text x="348.40" y="650.8" font-size="22" text-anchor="middle">100</text>
<text x="568.29" y="650.8" font-size="22" text-anchor="middle">500</text>
<text x="663.00" y="650.8" font-size="22" text-anchor="middle">1000</text>
<text x="977.60" y="650.8" font-size="22" text-anchor="middle">10000</text>
<text x="1072.30" y="650.8" font-size="22" text-anchor="middle">20000</text></svg>
</body></html>
